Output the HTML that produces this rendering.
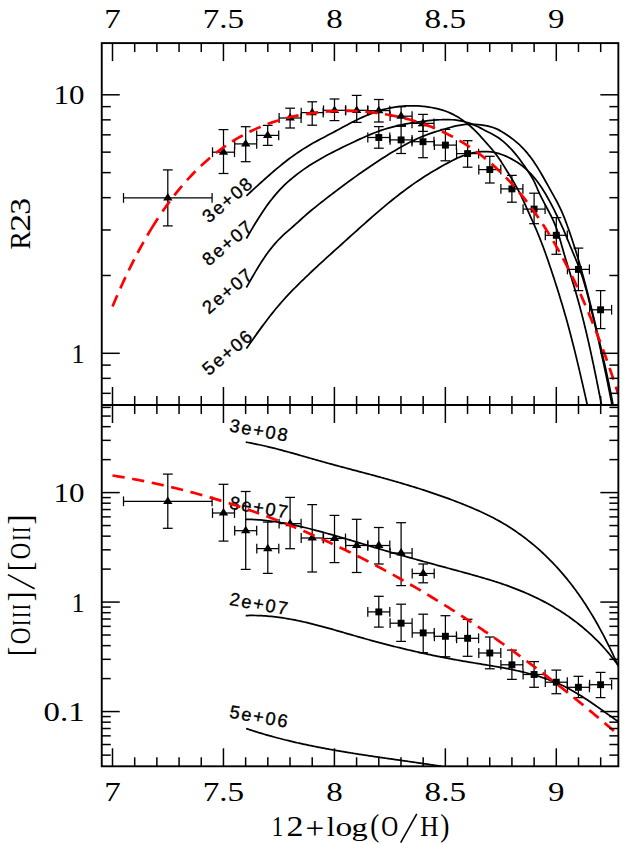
<!DOCTYPE html>
<html><head><meta charset="utf-8"><title>R23 and [OIII]/[OII] vs 12+log(O/H)</title>
<style>html,body{margin:0;padding:0;background:#fff;}svg{display:block;}</style></head>
<body>
<svg width="623" height="844" viewBox="0 0 623 844">
<rect x="0" y="0" width="623" height="844" fill="#fff"/>
<defs><clipPath id="c1"><rect x="101.75" y="43.1" width="516.6" height="361.9"/></clipPath><clipPath id="c2"><rect x="101.75" y="405.0" width="516.6" height="361.29999999999995"/></clipPath></defs>
<text transform="translate(255.0,185.0) rotate(-40)" x="0" y="0" text-anchor="end" font-family="Liberation Sans, sans-serif" font-size="18.3" letter-spacing="1.8"  fill="#000" stroke="#000" stroke-width="0.35">3e+08</text>
<text transform="translate(255.0,228.0) rotate(-40)" x="0" y="0" text-anchor="end" font-family="Liberation Sans, sans-serif" font-size="18.3" letter-spacing="1.8"  fill="#000" stroke="#000" stroke-width="0.35">8e+07</text>
<text transform="translate(255.0,276.0) rotate(-40)" x="0" y="0" text-anchor="end" font-family="Liberation Sans, sans-serif" font-size="18.3" letter-spacing="1.8"  fill="#000" stroke="#000" stroke-width="0.35">2e+07</text>
<text transform="translate(255.0,337.5) rotate(-40)" x="0" y="0" text-anchor="end" font-family="Liberation Sans, sans-serif" font-size="18.3" letter-spacing="1.8"  fill="#000" stroke="#000" stroke-width="0.35">5e+06</text>
<text transform="translate(288.2,441.8) rotate(10)" x="0" y="0" text-anchor="end" font-family="Liberation Sans, sans-serif" font-size="18.3" letter-spacing="1.8"  fill="#000" stroke="#000" stroke-width="0.35">3e+08</text>
<text transform="translate(288.2,518.9) rotate(10)" x="0" y="0" text-anchor="end" font-family="Liberation Sans, sans-serif" font-size="18.3" letter-spacing="1.8"  fill="#000" stroke="#000" stroke-width="0.35">8e+07</text>
<text transform="translate(288.2,615.3) rotate(10)" x="0" y="0" text-anchor="end" font-family="Liberation Sans, sans-serif" font-size="18.3" letter-spacing="1.8"  fill="#000" stroke="#000" stroke-width="0.35">2e+07</text>
<text transform="translate(288.2,728.1) rotate(10)" x="0" y="0" text-anchor="end" font-family="Liberation Sans, sans-serif" font-size="18.3" letter-spacing="1.8"  fill="#000" stroke="#000" stroke-width="0.35">5e+06</text>
<line x1="167.80" y1="169.90" x2="167.80" y2="225.90" stroke="#000" stroke-width="1.25" />
<line x1="162.90" y1="169.90" x2="172.70" y2="169.90" stroke="#000" stroke-width="1.25" />
<line x1="162.90" y1="225.90" x2="172.70" y2="225.90" stroke="#000" stroke-width="1.25" />
<line x1="123.50" y1="197.90" x2="212.10" y2="197.90" stroke="#000" stroke-width="1.25" />
<line x1="123.50" y1="193.00" x2="123.50" y2="202.80" stroke="#000" stroke-width="1.25" />
<line x1="212.10" y1="193.00" x2="212.10" y2="202.80" stroke="#000" stroke-width="1.25" />
<line x1="223.50" y1="129.60" x2="223.50" y2="173.50" stroke="#000" stroke-width="1.25" />
<line x1="218.60" y1="129.60" x2="228.40" y2="129.60" stroke="#000" stroke-width="1.25" />
<line x1="218.60" y1="173.50" x2="228.40" y2="173.50" stroke="#000" stroke-width="1.25" />
<line x1="212.50" y1="152.20" x2="234.50" y2="152.20" stroke="#000" stroke-width="1.25" />
<line x1="212.50" y1="147.30" x2="212.50" y2="157.10" stroke="#000" stroke-width="1.25" />
<line x1="234.50" y1="147.30" x2="234.50" y2="157.10" stroke="#000" stroke-width="1.25" />
<line x1="245.70" y1="126.70" x2="245.70" y2="161.70" stroke="#000" stroke-width="1.25" />
<line x1="240.80" y1="126.70" x2="250.60" y2="126.70" stroke="#000" stroke-width="1.25" />
<line x1="240.80" y1="161.70" x2="250.60" y2="161.70" stroke="#000" stroke-width="1.25" />
<line x1="234.70" y1="143.90" x2="256.70" y2="143.90" stroke="#000" stroke-width="1.25" />
<line x1="234.70" y1="139.00" x2="234.70" y2="148.80" stroke="#000" stroke-width="1.25" />
<line x1="256.70" y1="139.00" x2="256.70" y2="148.80" stroke="#000" stroke-width="1.25" />
<line x1="267.70" y1="125.40" x2="267.70" y2="145.40" stroke="#000" stroke-width="1.25" />
<line x1="262.80" y1="125.40" x2="272.60" y2="125.40" stroke="#000" stroke-width="1.25" />
<line x1="262.80" y1="145.40" x2="272.60" y2="145.40" stroke="#000" stroke-width="1.25" />
<line x1="256.70" y1="135.40" x2="278.70" y2="135.40" stroke="#000" stroke-width="1.25" />
<line x1="256.70" y1="130.50" x2="256.70" y2="140.30" stroke="#000" stroke-width="1.25" />
<line x1="278.70" y1="130.50" x2="278.70" y2="140.30" stroke="#000" stroke-width="1.25" />
<line x1="290.10" y1="108.20" x2="290.10" y2="128.00" stroke="#000" stroke-width="1.25" />
<line x1="285.20" y1="108.20" x2="295.00" y2="108.20" stroke="#000" stroke-width="1.25" />
<line x1="285.20" y1="128.00" x2="295.00" y2="128.00" stroke="#000" stroke-width="1.25" />
<line x1="279.10" y1="118.00" x2="301.10" y2="118.00" stroke="#000" stroke-width="1.25" />
<line x1="279.10" y1="113.10" x2="279.10" y2="122.90" stroke="#000" stroke-width="1.25" />
<line x1="301.10" y1="113.10" x2="301.10" y2="122.90" stroke="#000" stroke-width="1.25" />
<line x1="312.20" y1="101.80" x2="312.20" y2="125.20" stroke="#000" stroke-width="1.25" />
<line x1="307.30" y1="101.80" x2="317.10" y2="101.80" stroke="#000" stroke-width="1.25" />
<line x1="307.30" y1="125.20" x2="317.10" y2="125.20" stroke="#000" stroke-width="1.25" />
<line x1="301.20" y1="112.60" x2="323.20" y2="112.60" stroke="#000" stroke-width="1.25" />
<line x1="301.20" y1="107.70" x2="301.20" y2="117.50" stroke="#000" stroke-width="1.25" />
<line x1="323.20" y1="107.70" x2="323.20" y2="117.50" stroke="#000" stroke-width="1.25" />
<line x1="334.50" y1="99.00" x2="334.50" y2="120.60" stroke="#000" stroke-width="1.25" />
<line x1="329.60" y1="99.00" x2="339.40" y2="99.00" stroke="#000" stroke-width="1.25" />
<line x1="329.60" y1="120.60" x2="339.40" y2="120.60" stroke="#000" stroke-width="1.25" />
<line x1="323.50" y1="110.30" x2="345.50" y2="110.30" stroke="#000" stroke-width="1.25" />
<line x1="323.50" y1="105.40" x2="323.50" y2="115.20" stroke="#000" stroke-width="1.25" />
<line x1="345.50" y1="105.40" x2="345.50" y2="115.20" stroke="#000" stroke-width="1.25" />
<line x1="356.70" y1="95.40" x2="356.70" y2="122.40" stroke="#000" stroke-width="1.25" />
<line x1="351.80" y1="95.40" x2="361.60" y2="95.40" stroke="#000" stroke-width="1.25" />
<line x1="351.80" y1="122.40" x2="361.60" y2="122.40" stroke="#000" stroke-width="1.25" />
<line x1="345.70" y1="110.30" x2="367.70" y2="110.30" stroke="#000" stroke-width="1.25" />
<line x1="345.70" y1="105.40" x2="345.70" y2="115.20" stroke="#000" stroke-width="1.25" />
<line x1="367.70" y1="105.40" x2="367.70" y2="115.20" stroke="#000" stroke-width="1.25" />
<line x1="378.80" y1="99.50" x2="378.80" y2="122.00" stroke="#000" stroke-width="1.25" />
<line x1="373.90" y1="99.50" x2="383.70" y2="99.50" stroke="#000" stroke-width="1.25" />
<line x1="373.90" y1="122.00" x2="383.70" y2="122.00" stroke="#000" stroke-width="1.25" />
<line x1="367.80" y1="110.60" x2="389.80" y2="110.60" stroke="#000" stroke-width="1.25" />
<line x1="367.80" y1="105.70" x2="367.80" y2="115.50" stroke="#000" stroke-width="1.25" />
<line x1="389.80" y1="105.70" x2="389.80" y2="115.50" stroke="#000" stroke-width="1.25" />
<line x1="401.10" y1="106.70" x2="401.10" y2="125.40" stroke="#000" stroke-width="1.25" />
<line x1="396.20" y1="106.70" x2="406.00" y2="106.70" stroke="#000" stroke-width="1.25" />
<line x1="396.20" y1="125.40" x2="406.00" y2="125.40" stroke="#000" stroke-width="1.25" />
<line x1="390.10" y1="116.20" x2="412.10" y2="116.20" stroke="#000" stroke-width="1.25" />
<line x1="390.10" y1="111.30" x2="390.10" y2="121.10" stroke="#000" stroke-width="1.25" />
<line x1="412.10" y1="111.30" x2="412.10" y2="121.10" stroke="#000" stroke-width="1.25" />
<line x1="423.00" y1="114.40" x2="423.00" y2="131.40" stroke="#000" stroke-width="1.25" />
<line x1="418.10" y1="114.40" x2="427.90" y2="114.40" stroke="#000" stroke-width="1.25" />
<line x1="418.10" y1="131.40" x2="427.90" y2="131.40" stroke="#000" stroke-width="1.25" />
<line x1="412.00" y1="123.40" x2="434.00" y2="123.40" stroke="#000" stroke-width="1.25" />
<line x1="412.00" y1="118.50" x2="412.00" y2="128.30" stroke="#000" stroke-width="1.25" />
<line x1="434.00" y1="118.50" x2="434.00" y2="128.30" stroke="#000" stroke-width="1.25" />
<line x1="378.80" y1="126.60" x2="378.80" y2="148.20" stroke="#000" stroke-width="1.25" />
<line x1="373.90" y1="126.60" x2="383.70" y2="126.60" stroke="#000" stroke-width="1.25" />
<line x1="373.90" y1="148.20" x2="383.70" y2="148.20" stroke="#000" stroke-width="1.25" />
<line x1="367.80" y1="137.50" x2="389.80" y2="137.50" stroke="#000" stroke-width="1.25" />
<line x1="367.80" y1="132.60" x2="367.80" y2="142.40" stroke="#000" stroke-width="1.25" />
<line x1="389.80" y1="132.60" x2="389.80" y2="142.40" stroke="#000" stroke-width="1.25" />
<line x1="401.10" y1="126.30" x2="401.10" y2="153.50" stroke="#000" stroke-width="1.25" />
<line x1="396.20" y1="126.30" x2="406.00" y2="126.30" stroke="#000" stroke-width="1.25" />
<line x1="396.20" y1="153.50" x2="406.00" y2="153.50" stroke="#000" stroke-width="1.25" />
<line x1="390.10" y1="139.90" x2="412.10" y2="139.90" stroke="#000" stroke-width="1.25" />
<line x1="390.10" y1="135.00" x2="390.10" y2="144.80" stroke="#000" stroke-width="1.25" />
<line x1="412.10" y1="135.00" x2="412.10" y2="144.80" stroke="#000" stroke-width="1.25" />
<line x1="423.00" y1="125.70" x2="423.00" y2="157.70" stroke="#000" stroke-width="1.25" />
<line x1="418.10" y1="125.70" x2="427.90" y2="125.70" stroke="#000" stroke-width="1.25" />
<line x1="418.10" y1="157.70" x2="427.90" y2="157.70" stroke="#000" stroke-width="1.25" />
<line x1="412.00" y1="141.70" x2="434.00" y2="141.70" stroke="#000" stroke-width="1.25" />
<line x1="412.00" y1="136.80" x2="412.00" y2="146.60" stroke="#000" stroke-width="1.25" />
<line x1="434.00" y1="136.80" x2="434.00" y2="146.60" stroke="#000" stroke-width="1.25" />
<line x1="445.40" y1="129.40" x2="445.40" y2="160.80" stroke="#000" stroke-width="1.25" />
<line x1="440.50" y1="129.40" x2="450.30" y2="129.40" stroke="#000" stroke-width="1.25" />
<line x1="440.50" y1="160.80" x2="450.30" y2="160.80" stroke="#000" stroke-width="1.25" />
<line x1="434.40" y1="145.10" x2="456.40" y2="145.10" stroke="#000" stroke-width="1.25" />
<line x1="434.40" y1="140.20" x2="434.40" y2="150.00" stroke="#000" stroke-width="1.25" />
<line x1="456.40" y1="140.20" x2="456.40" y2="150.00" stroke="#000" stroke-width="1.25" />
<line x1="467.60" y1="140.70" x2="467.60" y2="167.20" stroke="#000" stroke-width="1.25" />
<line x1="462.70" y1="140.70" x2="472.50" y2="140.70" stroke="#000" stroke-width="1.25" />
<line x1="462.70" y1="167.20" x2="472.50" y2="167.20" stroke="#000" stroke-width="1.25" />
<line x1="456.60" y1="153.60" x2="478.60" y2="153.60" stroke="#000" stroke-width="1.25" />
<line x1="456.60" y1="148.70" x2="456.60" y2="158.50" stroke="#000" stroke-width="1.25" />
<line x1="478.60" y1="148.70" x2="478.60" y2="158.50" stroke="#000" stroke-width="1.25" />
<line x1="489.80" y1="156.30" x2="489.80" y2="183.00" stroke="#000" stroke-width="1.25" />
<line x1="484.90" y1="156.30" x2="494.70" y2="156.30" stroke="#000" stroke-width="1.25" />
<line x1="484.90" y1="183.00" x2="494.70" y2="183.00" stroke="#000" stroke-width="1.25" />
<line x1="478.80" y1="169.60" x2="500.80" y2="169.60" stroke="#000" stroke-width="1.25" />
<line x1="478.80" y1="164.70" x2="478.80" y2="174.50" stroke="#000" stroke-width="1.25" />
<line x1="500.80" y1="164.70" x2="500.80" y2="174.50" stroke="#000" stroke-width="1.25" />
<line x1="511.90" y1="175.40" x2="511.90" y2="202.20" stroke="#000" stroke-width="1.25" />
<line x1="507.00" y1="175.40" x2="516.80" y2="175.40" stroke="#000" stroke-width="1.25" />
<line x1="507.00" y1="202.20" x2="516.80" y2="202.20" stroke="#000" stroke-width="1.25" />
<line x1="500.90" y1="188.90" x2="522.90" y2="188.90" stroke="#000" stroke-width="1.25" />
<line x1="500.90" y1="184.00" x2="500.90" y2="193.80" stroke="#000" stroke-width="1.25" />
<line x1="522.90" y1="184.00" x2="522.90" y2="193.80" stroke="#000" stroke-width="1.25" />
<line x1="534.10" y1="193.20" x2="534.10" y2="223.70" stroke="#000" stroke-width="1.25" />
<line x1="529.20" y1="193.20" x2="539.00" y2="193.20" stroke="#000" stroke-width="1.25" />
<line x1="529.20" y1="223.70" x2="539.00" y2="223.70" stroke="#000" stroke-width="1.25" />
<line x1="523.10" y1="209.10" x2="545.10" y2="209.10" stroke="#000" stroke-width="1.25" />
<line x1="523.10" y1="204.20" x2="523.10" y2="214.00" stroke="#000" stroke-width="1.25" />
<line x1="545.10" y1="204.20" x2="545.10" y2="214.00" stroke="#000" stroke-width="1.25" />
<line x1="556.30" y1="217.60" x2="556.30" y2="254.30" stroke="#000" stroke-width="1.25" />
<line x1="551.40" y1="217.60" x2="561.20" y2="217.60" stroke="#000" stroke-width="1.25" />
<line x1="551.40" y1="254.30" x2="561.20" y2="254.30" stroke="#000" stroke-width="1.25" />
<line x1="545.30" y1="235.30" x2="567.30" y2="235.30" stroke="#000" stroke-width="1.25" />
<line x1="545.30" y1="230.40" x2="545.30" y2="240.20" stroke="#000" stroke-width="1.25" />
<line x1="567.30" y1="230.40" x2="567.30" y2="240.20" stroke="#000" stroke-width="1.25" />
<line x1="578.40" y1="248.10" x2="578.40" y2="290.60" stroke="#000" stroke-width="1.25" />
<line x1="573.50" y1="248.10" x2="583.30" y2="248.10" stroke="#000" stroke-width="1.25" />
<line x1="573.50" y1="290.60" x2="583.30" y2="290.60" stroke="#000" stroke-width="1.25" />
<line x1="567.40" y1="269.40" x2="589.40" y2="269.40" stroke="#000" stroke-width="1.25" />
<line x1="567.40" y1="264.50" x2="567.40" y2="274.30" stroke="#000" stroke-width="1.25" />
<line x1="589.40" y1="264.50" x2="589.40" y2="274.30" stroke="#000" stroke-width="1.25" />
<line x1="600.60" y1="290.60" x2="600.60" y2="328.60" stroke="#000" stroke-width="1.25" />
<line x1="595.70" y1="290.60" x2="605.50" y2="290.60" stroke="#000" stroke-width="1.25" />
<line x1="595.70" y1="328.60" x2="605.50" y2="328.60" stroke="#000" stroke-width="1.25" />
<line x1="589.60" y1="309.80" x2="611.60" y2="309.80" stroke="#000" stroke-width="1.25" />
<line x1="589.60" y1="304.90" x2="589.60" y2="314.70" stroke="#000" stroke-width="1.25" />
<line x1="611.60" y1="304.90" x2="611.60" y2="314.70" stroke="#000" stroke-width="1.25" />
<line x1="167.80" y1="474.10" x2="167.80" y2="528.30" stroke="#000" stroke-width="1.25" />
<line x1="162.90" y1="474.10" x2="172.70" y2="474.10" stroke="#000" stroke-width="1.25" />
<line x1="162.90" y1="528.30" x2="172.70" y2="528.30" stroke="#000" stroke-width="1.25" />
<line x1="123.50" y1="501.30" x2="212.10" y2="501.30" stroke="#000" stroke-width="1.25" />
<line x1="123.50" y1="496.40" x2="123.50" y2="506.20" stroke="#000" stroke-width="1.25" />
<line x1="212.10" y1="496.40" x2="212.10" y2="506.20" stroke="#000" stroke-width="1.25" />
<line x1="223.50" y1="484.30" x2="223.50" y2="541.10" stroke="#000" stroke-width="1.25" />
<line x1="218.60" y1="484.30" x2="228.40" y2="484.30" stroke="#000" stroke-width="1.25" />
<line x1="218.60" y1="541.10" x2="228.40" y2="541.10" stroke="#000" stroke-width="1.25" />
<line x1="212.50" y1="513.00" x2="234.50" y2="513.00" stroke="#000" stroke-width="1.25" />
<line x1="212.50" y1="508.10" x2="212.50" y2="517.90" stroke="#000" stroke-width="1.25" />
<line x1="234.50" y1="508.10" x2="234.50" y2="517.90" stroke="#000" stroke-width="1.25" />
<line x1="245.70" y1="491.50" x2="245.70" y2="569.40" stroke="#000" stroke-width="1.25" />
<line x1="240.80" y1="491.50" x2="250.60" y2="491.50" stroke="#000" stroke-width="1.25" />
<line x1="240.80" y1="569.40" x2="250.60" y2="569.40" stroke="#000" stroke-width="1.25" />
<line x1="234.70" y1="530.70" x2="256.70" y2="530.70" stroke="#000" stroke-width="1.25" />
<line x1="234.70" y1="525.80" x2="234.70" y2="535.60" stroke="#000" stroke-width="1.25" />
<line x1="256.70" y1="525.80" x2="256.70" y2="535.60" stroke="#000" stroke-width="1.25" />
<line x1="267.80" y1="522.10" x2="267.80" y2="573.40" stroke="#000" stroke-width="1.25" />
<line x1="262.90" y1="522.10" x2="272.70" y2="522.10" stroke="#000" stroke-width="1.25" />
<line x1="262.90" y1="573.40" x2="272.70" y2="573.40" stroke="#000" stroke-width="1.25" />
<line x1="256.80" y1="548.60" x2="278.80" y2="548.60" stroke="#000" stroke-width="1.25" />
<line x1="256.80" y1="543.70" x2="256.80" y2="553.50" stroke="#000" stroke-width="1.25" />
<line x1="278.80" y1="543.70" x2="278.80" y2="553.50" stroke="#000" stroke-width="1.25" />
<line x1="290.10" y1="497.40" x2="290.10" y2="548.70" stroke="#000" stroke-width="1.25" />
<line x1="285.20" y1="497.40" x2="295.00" y2="497.40" stroke="#000" stroke-width="1.25" />
<line x1="285.20" y1="548.70" x2="295.00" y2="548.70" stroke="#000" stroke-width="1.25" />
<line x1="279.10" y1="523.60" x2="301.10" y2="523.60" stroke="#000" stroke-width="1.25" />
<line x1="279.10" y1="518.70" x2="279.10" y2="528.50" stroke="#000" stroke-width="1.25" />
<line x1="301.10" y1="518.70" x2="301.10" y2="528.50" stroke="#000" stroke-width="1.25" />
<line x1="312.20" y1="504.60" x2="312.20" y2="572.00" stroke="#000" stroke-width="1.25" />
<line x1="307.30" y1="504.60" x2="317.10" y2="504.60" stroke="#000" stroke-width="1.25" />
<line x1="307.30" y1="572.00" x2="317.10" y2="572.00" stroke="#000" stroke-width="1.25" />
<line x1="301.20" y1="538.00" x2="323.20" y2="538.00" stroke="#000" stroke-width="1.25" />
<line x1="301.20" y1="533.10" x2="301.20" y2="542.90" stroke="#000" stroke-width="1.25" />
<line x1="323.20" y1="533.10" x2="323.20" y2="542.90" stroke="#000" stroke-width="1.25" />
<line x1="334.50" y1="515.40" x2="334.50" y2="562.60" stroke="#000" stroke-width="1.25" />
<line x1="329.60" y1="515.40" x2="339.40" y2="515.40" stroke="#000" stroke-width="1.25" />
<line x1="329.60" y1="562.60" x2="339.40" y2="562.60" stroke="#000" stroke-width="1.25" />
<line x1="323.50" y1="538.50" x2="345.50" y2="538.50" stroke="#000" stroke-width="1.25" />
<line x1="323.50" y1="533.60" x2="323.50" y2="543.40" stroke="#000" stroke-width="1.25" />
<line x1="345.50" y1="533.60" x2="345.50" y2="543.40" stroke="#000" stroke-width="1.25" />
<line x1="356.70" y1="519.30" x2="356.70" y2="572.50" stroke="#000" stroke-width="1.25" />
<line x1="351.80" y1="519.30" x2="361.60" y2="519.30" stroke="#000" stroke-width="1.25" />
<line x1="351.80" y1="572.50" x2="361.60" y2="572.50" stroke="#000" stroke-width="1.25" />
<line x1="345.70" y1="545.50" x2="367.70" y2="545.50" stroke="#000" stroke-width="1.25" />
<line x1="345.70" y1="540.60" x2="345.70" y2="550.40" stroke="#000" stroke-width="1.25" />
<line x1="367.70" y1="540.60" x2="367.70" y2="550.40" stroke="#000" stroke-width="1.25" />
<line x1="378.80" y1="527.50" x2="378.80" y2="564.00" stroke="#000" stroke-width="1.25" />
<line x1="373.90" y1="527.50" x2="383.70" y2="527.50" stroke="#000" stroke-width="1.25" />
<line x1="373.90" y1="564.00" x2="383.70" y2="564.00" stroke="#000" stroke-width="1.25" />
<line x1="367.80" y1="545.50" x2="389.80" y2="545.50" stroke="#000" stroke-width="1.25" />
<line x1="367.80" y1="540.60" x2="367.80" y2="550.40" stroke="#000" stroke-width="1.25" />
<line x1="389.80" y1="540.60" x2="389.80" y2="550.40" stroke="#000" stroke-width="1.25" />
<line x1="401.10" y1="522.70" x2="401.10" y2="585.60" stroke="#000" stroke-width="1.25" />
<line x1="396.20" y1="522.70" x2="406.00" y2="522.70" stroke="#000" stroke-width="1.25" />
<line x1="396.20" y1="585.60" x2="406.00" y2="585.60" stroke="#000" stroke-width="1.25" />
<line x1="390.10" y1="553.00" x2="412.10" y2="553.00" stroke="#000" stroke-width="1.25" />
<line x1="390.10" y1="548.10" x2="390.10" y2="557.90" stroke="#000" stroke-width="1.25" />
<line x1="412.10" y1="548.10" x2="412.10" y2="557.90" stroke="#000" stroke-width="1.25" />
<line x1="423.20" y1="564.00" x2="423.20" y2="582.80" stroke="#000" stroke-width="1.25" />
<line x1="418.30" y1="564.00" x2="428.10" y2="564.00" stroke="#000" stroke-width="1.25" />
<line x1="418.30" y1="582.80" x2="428.10" y2="582.80" stroke="#000" stroke-width="1.25" />
<line x1="412.20" y1="573.50" x2="434.20" y2="573.50" stroke="#000" stroke-width="1.25" />
<line x1="412.20" y1="568.60" x2="412.20" y2="578.40" stroke="#000" stroke-width="1.25" />
<line x1="434.20" y1="568.60" x2="434.20" y2="578.40" stroke="#000" stroke-width="1.25" />
<line x1="378.80" y1="596.30" x2="378.80" y2="627.10" stroke="#000" stroke-width="1.25" />
<line x1="373.90" y1="596.30" x2="383.70" y2="596.30" stroke="#000" stroke-width="1.25" />
<line x1="373.90" y1="627.10" x2="383.70" y2="627.10" stroke="#000" stroke-width="1.25" />
<line x1="367.80" y1="611.90" x2="389.80" y2="611.90" stroke="#000" stroke-width="1.25" />
<line x1="367.80" y1="607.00" x2="367.80" y2="616.80" stroke="#000" stroke-width="1.25" />
<line x1="389.80" y1="607.00" x2="389.80" y2="616.80" stroke="#000" stroke-width="1.25" />
<line x1="401.10" y1="604.20" x2="401.10" y2="641.40" stroke="#000" stroke-width="1.25" />
<line x1="396.20" y1="604.20" x2="406.00" y2="604.20" stroke="#000" stroke-width="1.25" />
<line x1="396.20" y1="641.40" x2="406.00" y2="641.40" stroke="#000" stroke-width="1.25" />
<line x1="390.10" y1="623.20" x2="412.10" y2="623.20" stroke="#000" stroke-width="1.25" />
<line x1="390.10" y1="618.30" x2="390.10" y2="628.10" stroke="#000" stroke-width="1.25" />
<line x1="412.10" y1="618.30" x2="412.10" y2="628.10" stroke="#000" stroke-width="1.25" />
<line x1="423.20" y1="614.20" x2="423.20" y2="652.70" stroke="#000" stroke-width="1.25" />
<line x1="418.30" y1="614.20" x2="428.10" y2="614.20" stroke="#000" stroke-width="1.25" />
<line x1="418.30" y1="652.70" x2="428.10" y2="652.70" stroke="#000" stroke-width="1.25" />
<line x1="412.20" y1="632.90" x2="434.20" y2="632.90" stroke="#000" stroke-width="1.25" />
<line x1="412.20" y1="628.00" x2="412.20" y2="637.80" stroke="#000" stroke-width="1.25" />
<line x1="434.20" y1="628.00" x2="434.20" y2="637.80" stroke="#000" stroke-width="1.25" />
<line x1="445.40" y1="615.70" x2="445.40" y2="656.80" stroke="#000" stroke-width="1.25" />
<line x1="440.50" y1="615.70" x2="450.30" y2="615.70" stroke="#000" stroke-width="1.25" />
<line x1="440.50" y1="656.80" x2="450.30" y2="656.80" stroke="#000" stroke-width="1.25" />
<line x1="434.40" y1="636.30" x2="456.40" y2="636.30" stroke="#000" stroke-width="1.25" />
<line x1="434.40" y1="631.40" x2="434.40" y2="641.20" stroke="#000" stroke-width="1.25" />
<line x1="456.40" y1="631.40" x2="456.40" y2="641.20" stroke="#000" stroke-width="1.25" />
<line x1="467.60" y1="619.30" x2="467.60" y2="656.30" stroke="#000" stroke-width="1.25" />
<line x1="462.70" y1="619.30" x2="472.50" y2="619.30" stroke="#000" stroke-width="1.25" />
<line x1="462.70" y1="656.30" x2="472.50" y2="656.30" stroke="#000" stroke-width="1.25" />
<line x1="456.60" y1="638.30" x2="478.60" y2="638.30" stroke="#000" stroke-width="1.25" />
<line x1="456.60" y1="633.40" x2="456.60" y2="643.20" stroke="#000" stroke-width="1.25" />
<line x1="478.60" y1="633.40" x2="478.60" y2="643.20" stroke="#000" stroke-width="1.25" />
<line x1="489.80" y1="637.00" x2="489.80" y2="668.80" stroke="#000" stroke-width="1.25" />
<line x1="484.90" y1="637.00" x2="494.70" y2="637.00" stroke="#000" stroke-width="1.25" />
<line x1="484.90" y1="668.80" x2="494.70" y2="668.80" stroke="#000" stroke-width="1.25" />
<line x1="478.80" y1="653.00" x2="500.80" y2="653.00" stroke="#000" stroke-width="1.25" />
<line x1="478.80" y1="648.10" x2="478.80" y2="657.90" stroke="#000" stroke-width="1.25" />
<line x1="500.80" y1="648.10" x2="500.80" y2="657.90" stroke="#000" stroke-width="1.25" />
<line x1="511.90" y1="650.10" x2="511.90" y2="679.40" stroke="#000" stroke-width="1.25" />
<line x1="507.00" y1="650.10" x2="516.80" y2="650.10" stroke="#000" stroke-width="1.25" />
<line x1="507.00" y1="679.40" x2="516.80" y2="679.40" stroke="#000" stroke-width="1.25" />
<line x1="500.90" y1="664.80" x2="522.90" y2="664.80" stroke="#000" stroke-width="1.25" />
<line x1="500.90" y1="659.90" x2="500.90" y2="669.70" stroke="#000" stroke-width="1.25" />
<line x1="522.90" y1="659.90" x2="522.90" y2="669.70" stroke="#000" stroke-width="1.25" />
<line x1="534.10" y1="661.60" x2="534.10" y2="687.30" stroke="#000" stroke-width="1.25" />
<line x1="529.20" y1="661.60" x2="539.00" y2="661.60" stroke="#000" stroke-width="1.25" />
<line x1="529.20" y1="687.30" x2="539.00" y2="687.30" stroke="#000" stroke-width="1.25" />
<line x1="523.10" y1="674.50" x2="545.10" y2="674.50" stroke="#000" stroke-width="1.25" />
<line x1="523.10" y1="669.60" x2="523.10" y2="679.40" stroke="#000" stroke-width="1.25" />
<line x1="545.10" y1="669.60" x2="545.10" y2="679.40" stroke="#000" stroke-width="1.25" />
<line x1="556.30" y1="670.10" x2="556.30" y2="693.70" stroke="#000" stroke-width="1.25" />
<line x1="551.40" y1="670.10" x2="561.20" y2="670.10" stroke="#000" stroke-width="1.25" />
<line x1="551.40" y1="693.70" x2="561.20" y2="693.70" stroke="#000" stroke-width="1.25" />
<line x1="545.30" y1="682.20" x2="567.30" y2="682.20" stroke="#000" stroke-width="1.25" />
<line x1="545.30" y1="677.30" x2="545.30" y2="687.10" stroke="#000" stroke-width="1.25" />
<line x1="567.30" y1="677.30" x2="567.30" y2="687.10" stroke="#000" stroke-width="1.25" />
<line x1="578.40" y1="676.30" x2="578.40" y2="697.60" stroke="#000" stroke-width="1.25" />
<line x1="573.50" y1="676.30" x2="583.30" y2="676.30" stroke="#000" stroke-width="1.25" />
<line x1="573.50" y1="697.60" x2="583.30" y2="697.60" stroke="#000" stroke-width="1.25" />
<line x1="567.40" y1="687.30" x2="589.40" y2="687.30" stroke="#000" stroke-width="1.25" />
<line x1="567.40" y1="682.40" x2="567.40" y2="692.20" stroke="#000" stroke-width="1.25" />
<line x1="589.40" y1="682.40" x2="589.40" y2="692.20" stroke="#000" stroke-width="1.25" />
<line x1="600.60" y1="672.40" x2="600.60" y2="697.60" stroke="#000" stroke-width="1.25" />
<line x1="595.70" y1="672.40" x2="605.50" y2="672.40" stroke="#000" stroke-width="1.25" />
<line x1="595.70" y1="697.60" x2="605.50" y2="697.60" stroke="#000" stroke-width="1.25" />
<line x1="589.60" y1="684.70" x2="611.60" y2="684.70" stroke="#000" stroke-width="1.25" />
<line x1="589.60" y1="679.80" x2="589.60" y2="689.60" stroke="#000" stroke-width="1.25" />
<line x1="611.60" y1="679.80" x2="611.60" y2="689.60" stroke="#000" stroke-width="1.25" />
<polygon points="167.80,193.00 163.10,200.50 172.50,200.50" fill="#000"/>
<polygon points="223.50,147.30 218.80,154.80 228.20,154.80" fill="#000"/>
<polygon points="245.70,139.00 241.00,146.50 250.40,146.50" fill="#000"/>
<polygon points="267.70,130.50 263.00,138.00 272.40,138.00" fill="#000"/>
<polygon points="290.10,113.10 285.40,120.60 294.80,120.60" fill="#000"/>
<polygon points="312.20,107.70 307.50,115.20 316.90,115.20" fill="#000"/>
<polygon points="334.50,105.40 329.80,112.90 339.20,112.90" fill="#000"/>
<polygon points="356.70,105.40 352.00,112.90 361.40,112.90" fill="#000"/>
<polygon points="378.80,105.70 374.10,113.20 383.50,113.20" fill="#000"/>
<polygon points="401.10,111.30 396.40,118.80 405.80,118.80" fill="#000"/>
<polygon points="423.00,118.50 418.30,126.00 427.70,126.00" fill="#000"/>
<polygon points="167.80,496.40 163.10,503.90 172.50,503.90" fill="#000"/>
<polygon points="223.50,508.10 218.80,515.60 228.20,515.60" fill="#000"/>
<polygon points="245.70,525.80 241.00,533.30 250.40,533.30" fill="#000"/>
<polygon points="267.80,543.70 263.10,551.20 272.50,551.20" fill="#000"/>
<polygon points="290.10,518.70 285.40,526.20 294.80,526.20" fill="#000"/>
<polygon points="312.20,533.10 307.50,540.60 316.90,540.60" fill="#000"/>
<polygon points="334.50,533.60 329.80,541.10 339.20,541.10" fill="#000"/>
<polygon points="356.70,540.60 352.00,548.10 361.40,548.10" fill="#000"/>
<polygon points="378.80,540.60 374.10,548.10 383.50,548.10" fill="#000"/>
<polygon points="401.10,548.10 396.40,555.60 405.80,555.60" fill="#000"/>
<polygon points="423.20,568.60 418.50,576.10 427.90,576.10" fill="#000"/>
<rect x="375.35" y="134.05" width="6.9" height="6.9" fill="#000"/>
<rect x="397.65" y="136.45" width="6.9" height="6.9" fill="#000"/>
<rect x="419.55" y="138.25" width="6.9" height="6.9" fill="#000"/>
<rect x="441.95" y="141.65" width="6.9" height="6.9" fill="#000"/>
<rect x="464.15" y="150.15" width="6.9" height="6.9" fill="#000"/>
<rect x="486.35" y="166.15" width="6.9" height="6.9" fill="#000"/>
<rect x="508.45" y="185.45" width="6.9" height="6.9" fill="#000"/>
<rect x="530.65" y="205.65" width="6.9" height="6.9" fill="#000"/>
<rect x="552.85" y="231.85" width="6.9" height="6.9" fill="#000"/>
<rect x="574.95" y="265.95" width="6.9" height="6.9" fill="#000"/>
<rect x="597.15" y="306.35" width="6.9" height="6.9" fill="#000"/>
<rect x="375.35" y="608.45" width="6.9" height="6.9" fill="#000"/>
<rect x="397.65" y="619.75" width="6.9" height="6.9" fill="#000"/>
<rect x="419.75" y="629.45" width="6.9" height="6.9" fill="#000"/>
<rect x="441.95" y="632.85" width="6.9" height="6.9" fill="#000"/>
<rect x="464.15" y="634.85" width="6.9" height="6.9" fill="#000"/>
<rect x="486.35" y="649.55" width="6.9" height="6.9" fill="#000"/>
<rect x="508.45" y="661.35" width="6.9" height="6.9" fill="#000"/>
<rect x="530.65" y="671.05" width="6.9" height="6.9" fill="#000"/>
<rect x="552.85" y="678.75" width="6.9" height="6.9" fill="#000"/>
<rect x="574.95" y="683.85" width="6.9" height="6.9" fill="#000"/>
<rect x="597.15" y="681.25" width="6.9" height="6.9" fill="#000"/>
<g clip-path="url(#c1)">
<path d="M246.42,195.78 L248.49,193.90 L250.56,192.01 L252.64,190.12 L254.72,188.22 L256.80,186.32 L258.89,184.42 L260.99,182.52 L263.09,180.63 L265.20,178.74 L267.31,176.86 L269.44,174.99 L271.57,173.12 L273.72,171.27 L275.88,169.44 L278.05,167.62 L280.23,165.81 L282.43,164.03 L284.64,162.27 L286.87,160.53 L289.12,158.82 L291.38,157.13 L293.66,155.47 L295.96,153.84 L298.29,152.24 L300.63,150.67 L302.99,149.14 L305.38,147.65 L307.79,146.19 L310.22,144.76 L312.66,143.36 L315.13,141.99 L317.60,140.63 L320.09,139.29 L322.58,137.97 L325.08,136.65 L327.58,135.33 L330.08,134.02 L332.59,132.70 L335.09,131.37 L337.58,130.04 L340.08,128.69 L342.57,127.35 L345.06,126.01 L347.55,124.67 L350.06,123.35 L352.56,122.05 L355.08,120.77 L357.61,119.52 L360.15,118.30 L362.71,117.11 L365.29,115.97 L367.89,114.87 L370.50,113.82 L373.14,112.83 L375.80,111.89 L378.48,111.01 L381.18,110.19 L383.89,109.43 L386.62,108.74 L389.37,108.11 L392.13,107.55 L394.91,107.07 L397.70,106.66 L400.51,106.32 L403.33,106.07 L406.16,105.89 L408.99,105.79 L411.83,105.76 L414.66,105.80 L417.50,105.91 L420.33,106.10 L423.16,106.35 L425.98,106.67 L428.78,107.06 L431.57,107.51 L434.34,108.03 L437.09,108.63 L439.82,109.31 L442.52,110.09 L445.19,110.98 L447.82,111.98 L450.42,113.11 L452.98,114.35 L455.48,115.68 L457.94,117.11 L460.35,118.63 L462.70,120.22 L464.98,121.88 L467.21,123.61 L469.39,125.41 L471.51,127.26 L473.57,129.17 L475.59,131.14 L477.57,133.15 L479.50,135.21 L481.39,137.30 L483.26,139.42 L485.13,141.54 L486.99,143.67 L488.87,145.78 L490.73,147.90 L492.56,150.04 L494.35,152.21 L496.07,154.44 L497.73,156.71 L499.34,159.02 L500.91,161.36 L502.44,163.73 L503.95,166.12 L505.44,168.52 L506.93,170.92 L508.42,173.32 L509.90,175.73 L511.37,178.14 L512.82,180.57 L514.25,183.00 L515.65,185.45 L517.02,187.92 L518.35,190.41 L519.64,192.92 L520.89,195.45 L522.11,198.00 L523.31,200.56 L524.48,203.13 L525.65,205.70 L526.80,208.28 L527.95,210.86 L529.11,213.44 L530.26,216.02 L531.42,218.59 L532.57,221.17 L533.71,223.75 L534.84,226.33 L535.96,228.92 L537.06,231.52 L538.14,234.12 L539.20,236.74 L540.24,239.36 L541.26,241.99 L542.27,244.63 L543.27,247.27 L544.24,249.92 L545.21,252.57 L546.16,255.23 L547.10,257.90 L548.03,260.56 L548.95,263.24 L549.85,265.91 L550.75,268.59 L551.65,271.27 L552.53,273.95 L553.42,276.64 L554.29,279.33 L555.16,282.01 L556.02,284.70 L556.88,287.39 L557.73,290.09 L558.58,292.78 L559.41,295.48 L560.24,298.18 L561.06,300.88 L561.88,303.58 L562.68,306.28 L563.48,308.99 L564.27,311.70 L565.05,314.42 L565.83,317.13 L566.59,319.85 L567.34,322.57 L568.09,325.29 L568.83,328.02 L569.56,330.75 L570.28,333.48 L570.99,336.21 L571.70,338.94 L572.40,341.68 L573.10,344.42 L573.79,347.16 L574.47,349.90 L575.14,352.64 L575.82,355.38 L576.48,358.13 L577.14,360.87 L577.80,363.62 L578.45,366.37 L579.10,369.12 L579.75,371.87 L580.39,374.62 L581.03,377.37 L581.66,380.12 L582.29,382.88 L582.93,385.63 L583.55,388.38 L584.18,391.14 L584.81,393.89 L585.43,396.64 L586.06,399.39 L586.68,402.15 L587.30,404.90" fill="none" stroke="#000" stroke-width="1.75" stroke-linejoin="round" />
<path d="M246.36,238.55 L247.83,236.00 L249.32,233.45 L250.81,230.89 L252.32,228.34 L253.84,225.79 L255.37,223.24 L256.93,220.70 L258.51,218.17 L260.11,215.66 L261.74,213.16 L263.39,210.68 L265.08,208.22 L266.79,205.79 L268.55,203.39 L270.33,201.01 L272.16,198.67 L274.03,196.36 L275.94,194.10 L277.90,191.87 L279.90,189.69 L281.95,187.56 L284.05,185.47 L286.20,183.43 L288.39,181.43 L290.63,179.48 L292.90,177.57 L295.21,175.70 L297.56,173.87 L299.93,172.09 L302.34,170.34 L304.78,168.63 L307.25,166.96 L309.74,165.33 L312.25,163.73 L314.79,162.17 L317.34,160.64 L319.91,159.15 L322.49,157.68 L325.09,156.25 L327.70,154.85 L330.32,153.46 L332.95,152.10 L335.59,150.76 L338.24,149.43 L340.90,148.11 L343.56,146.81 L346.24,145.51 L348.92,144.23 L351.61,142.94 L354.30,141.67 L356.99,140.41 L359.70,139.16 L362.41,137.93 L365.13,136.72 L367.87,135.54 L370.61,134.39 L373.36,133.28 L376.13,132.21 L378.92,131.18 L381.71,130.19 L384.53,129.26 L387.36,128.39 L390.20,127.56 L393.06,126.79 L395.93,126.06 L398.82,125.38 L401.72,124.74 L404.63,124.15 L407.55,123.60 L410.47,123.08 L413.41,122.61 L416.36,122.16 L419.31,121.76 L422.26,121.38 L425.23,121.04 L428.19,120.72 L431.16,120.43 L434.13,120.16 L437.11,119.93 L440.08,119.75 L443.05,119.63 L446.01,119.58 L448.97,119.62 L451.92,119.75 L454.86,119.99 L457.79,120.35 L460.70,120.84 L463.60,121.47 L466.48,122.25 L469.33,123.16 L472.14,124.19 L474.90,125.33 L477.60,126.57 L480.24,127.90 L482.85,129.27 L485.45,130.65 L488.09,132.00 L490.75,133.32 L493.38,134.70 L495.96,136.19 L498.44,137.81 L500.84,139.57 L503.16,141.43 L505.40,143.38 L507.57,145.41 L509.67,147.52 L511.70,149.68 L513.68,151.90 L515.59,154.17 L517.46,156.48 L519.28,158.84 L521.06,161.23 L522.80,163.65 L524.51,166.09 L526.18,168.55 L527.84,171.02 L529.48,173.50 L531.08,176.00 L532.60,178.53 L534.00,181.12 L535.25,183.79 L536.42,186.51 L537.56,189.24 L538.76,191.95 L540.02,194.63 L541.33,197.30 L542.68,199.95 L544.06,202.58 L545.46,205.21 L546.86,207.84 L548.25,210.47 L549.63,213.11 L550.97,215.76 L552.27,218.43 L553.52,221.13 L554.69,223.84 L555.79,226.59 L556.82,229.38 L557.77,232.19 L558.67,235.02 L559.54,237.87 L560.37,240.73 L561.18,243.59 L561.99,246.46 L562.81,249.33 L563.64,252.19 L564.48,255.04 L565.33,257.90 L566.19,260.74 L567.05,263.59 L567.92,266.43 L568.80,269.27 L569.67,272.11 L570.55,274.95 L571.42,277.78 L572.29,280.62 L573.16,283.46 L574.01,286.30 L574.86,289.15 L575.70,292.00 L576.52,294.85 L577.33,297.70 L578.14,300.56 L578.92,303.42 L579.70,306.29 L580.47,309.16 L581.23,312.03 L581.97,314.90 L582.71,317.78 L583.43,320.66 L584.15,323.55 L584.85,326.43 L585.55,329.32 L586.24,332.21 L586.92,335.10 L587.59,338.00 L588.26,340.90 L588.91,343.79 L589.56,346.70 L590.21,349.60 L590.84,352.50 L591.47,355.41 L592.10,358.31 L592.72,361.22 L593.33,364.13 L593.94,367.04 L594.54,369.95 L595.14,372.86 L595.74,375.77 L596.33,378.68 L596.91,381.60 L597.50,384.51 L598.08,387.42 L598.66,390.33 L599.23,393.25 L599.81,396.16 L600.38,399.07 L600.95,401.98 L601.52,404.89" fill="none" stroke="#000" stroke-width="1.75" stroke-linejoin="round" />
<path d="M246.36,287.55 L247.88,284.87 L249.42,282.18 L250.95,279.49 L252.50,276.79 L254.07,274.09 L255.65,271.40 L257.25,268.71 L258.88,266.04 L260.54,263.39 L262.23,260.76 L263.96,258.16 L265.72,255.59 L267.53,253.05 L269.39,250.55 L271.30,248.09 L273.26,245.68 L275.27,243.32 L277.35,241.02 L279.49,238.77 L281.70,236.59 L283.97,234.47 L286.29,232.39 L288.63,230.33 L290.99,228.29 L293.35,226.24 L295.69,224.18 L298.00,222.10 L300.30,219.99 L302.60,217.89 L304.91,215.82 L307.26,213.77 L309.63,211.76 L312.03,209.77 L314.45,207.81 L316.88,205.86 L319.32,203.93 L321.76,202.00 L324.21,200.08 L326.67,198.17 L329.13,196.26 L331.60,194.37 L334.07,192.47 L336.55,190.59 L339.04,188.72 L341.53,186.85 L344.02,184.99 L346.53,183.14 L349.04,181.30 L351.56,179.47 L354.08,177.65 L356.61,175.84 L359.15,174.04 L361.70,172.25 L364.26,170.47 L366.82,168.70 L369.39,166.95 L371.98,165.20 L374.57,163.47 L377.16,161.75 L379.77,160.04 L382.39,158.35 L385.02,156.67 L387.65,155.00 L390.30,153.36 L392.96,151.73 L395.64,150.13 L398.33,148.56 L401.03,147.01 L403.76,145.50 L406.50,144.03 L409.25,142.59 L412.03,141.20 L414.83,139.85 L417.65,138.55 L420.50,137.30 L423.37,136.10 L426.26,134.96 L429.18,133.88 L432.13,132.87 L435.11,131.91 L438.10,131.00 L441.10,130.12 L444.10,129.26 L447.10,128.39 L450.09,127.53 L453.08,126.71 L456.09,125.95 L459.11,125.31 L462.16,124.79 L465.24,124.45 L468.36,124.26 L471.48,124.22 L474.62,124.33 L477.76,124.57 L480.88,124.92 L483.99,125.39 L487.06,125.96 L490.08,126.65 L493.04,127.50 L495.91,128.57 L498.69,129.88 L501.39,131.39 L504.04,133.03 L506.65,134.77 L509.25,136.56 L511.82,138.42 L514.33,140.33 L516.76,142.32 L519.11,144.39 L521.36,146.55 L523.52,148.77 L525.59,151.07 L527.59,153.43 L529.52,155.85 L531.38,158.32 L533.18,160.85 L534.92,163.41 L536.62,166.02 L538.27,168.66 L539.89,171.33 L541.47,174.03 L543.03,176.74 L544.57,179.46 L546.10,182.20 L547.62,184.93 L549.14,187.67 L550.66,190.40 L552.19,193.11 L553.72,195.83 L555.22,198.55 L556.70,201.28 L558.15,204.02 L559.53,206.80 L560.86,209.61 L562.12,212.44 L563.33,215.31 L564.49,218.20 L565.61,221.11 L566.69,224.03 L567.76,226.96 L568.80,229.90 L569.82,232.85 L570.83,235.79 L571.83,238.75 L572.80,241.70 L573.76,244.67 L574.71,247.63 L575.64,250.60 L576.56,253.58 L577.47,256.56 L578.36,259.54 L579.24,262.53 L580.11,265.52 L580.96,268.51 L581.81,271.51 L582.64,274.51 L583.47,277.51 L584.28,280.51 L585.09,283.52 L585.89,286.53 L586.68,289.54 L587.46,292.56 L588.23,295.57 L589.00,298.59 L589.76,301.61 L590.52,304.63 L591.27,307.66 L592.01,310.68 L592.75,313.71 L593.49,316.73 L594.23,319.76 L594.96,322.79 L595.69,325.82 L596.41,328.84 L597.14,331.87 L597.86,334.90 L598.58,337.93 L599.30,340.96 L600.01,343.99 L600.73,347.02 L601.43,350.06 L602.14,353.09 L602.83,356.12 L603.53,359.16 L604.21,362.20 L604.90,365.24 L605.57,368.28 L606.24,371.32 L606.90,374.36 L607.55,377.40 L608.19,380.45 L608.83,383.50 L609.46,386.55 L610.07,389.60 L610.68,392.66 L611.28,395.71 L611.86,398.77 L612.44,401.84 L613.00,404.90" fill="none" stroke="#000" stroke-width="1.75" stroke-linejoin="round" />
<path d="M246.40,348.50 L248.18,345.98 L249.96,343.45 L251.74,340.93 L253.53,338.40 L255.32,335.89 L257.12,333.37 L258.92,330.87 L260.74,328.37 L262.57,325.88 L264.41,323.40 L266.27,320.93 L268.15,318.48 L270.04,316.04 L271.95,313.61 L273.88,311.21 L275.84,308.82 L277.82,306.45 L279.82,304.10 L281.85,301.78 L283.91,299.47 L285.99,297.19 L288.09,294.93 L290.22,292.68 L292.36,290.45 L294.52,288.24 L296.70,286.05 L298.89,283.86 L301.10,281.70 L303.31,279.54 L305.54,277.39 L307.77,275.26 L310.01,273.13 L312.25,271.01 L314.51,268.90 L316.77,266.80 L319.03,264.71 L321.30,262.62 L323.58,260.53 L325.86,258.45 L328.14,256.38 L330.43,254.31 L332.72,252.24 L335.01,250.17 L337.31,248.11 L339.60,246.04 L341.90,243.98 L344.19,241.91 L346.49,239.84 L348.78,237.77 L351.08,235.70 L353.38,233.63 L355.67,231.56 L357.97,229.50 L360.28,227.43 L362.58,225.37 L364.89,223.31 L367.20,221.26 L369.52,219.22 L371.85,217.18 L374.18,215.14 L376.52,213.12 L378.86,211.11 L381.21,209.11 L383.58,207.11 L385.95,205.14 L388.33,203.17 L390.72,201.22 L393.12,199.28 L395.54,197.36 L397.96,195.45 L400.40,193.56 L402.86,191.69 L405.33,189.84 L407.81,188.01 L410.31,186.20 L412.82,184.41 L415.35,182.65 L417.90,180.91 L420.47,179.19 L423.05,177.49 L425.66,175.83 L428.28,174.19 L430.92,172.57 L433.58,170.99 L436.25,169.42 L438.93,167.88 L441.63,166.35 L444.33,164.85 L447.03,163.37 L449.74,161.91 L452.47,160.48 L455.23,159.12 L458.02,157.82 L460.86,156.61 L463.76,155.50 L466.71,154.51 L469.71,153.65 L472.75,152.92 L475.81,152.33 L478.88,151.90 L481.96,151.65 L485.04,151.56 L488.10,151.67 L491.14,151.97 L494.15,152.45 L497.14,153.12 L500.08,153.96 L502.98,154.98 L505.84,156.15 L508.67,157.45 L511.44,158.87 L514.17,160.40 L516.82,162.05 L519.41,163.80 L521.91,165.66 L524.31,167.60 L526.62,169.64 L528.84,171.76 L530.97,173.96 L533.02,176.24 L535.00,178.58 L536.89,180.99 L538.72,183.46 L540.49,185.98 L542.20,188.55 L543.85,191.16 L545.45,193.81 L547.01,196.49 L548.52,199.20 L550.00,201.93 L551.45,204.68 L552.87,207.45 L554.27,210.22 L555.65,212.99 L557.01,215.76 L558.36,218.53 L559.69,221.31 L560.99,224.10 L562.26,226.90 L563.50,229.71 L564.71,232.54 L565.90,235.39 L567.07,238.24 L568.24,241.10 L569.40,243.97 L570.57,246.83 L571.76,249.69 L572.96,252.55 L574.16,255.40 L575.36,258.25 L576.55,261.11 L577.70,263.98 L578.82,266.86 L579.89,269.76 L580.92,272.67 L581.90,275.59 L582.85,278.53 L583.77,281.47 L584.65,284.43 L585.50,287.40 L586.32,290.37 L587.13,293.35 L587.91,296.34 L588.68,299.33 L589.44,302.33 L590.18,305.33 L590.92,308.33 L591.65,311.33 L592.38,314.33 L593.11,317.34 L593.83,320.34 L594.54,323.35 L595.25,326.36 L595.95,329.36 L596.65,332.37 L597.35,335.38 L598.04,338.40 L598.72,341.41 L599.40,344.42 L600.08,347.44 L600.75,350.45 L601.42,353.47 L602.08,356.48 L602.73,359.50 L603.39,362.52 L604.03,365.54 L604.68,368.56 L605.31,371.59 L605.95,374.61 L606.58,377.63 L607.20,380.66 L607.82,383.68 L608.44,386.71 L609.05,389.74 L609.65,392.77 L610.25,395.80 L610.85,398.83 L611.44,401.86 L612.03,404.89" fill="none" stroke="#000" stroke-width="1.75" stroke-linejoin="round" />
</g>
<g clip-path="url(#c2)">
<path d="M245.72,442.11 L247.99,442.51 L250.25,442.93 L252.51,443.36 L254.77,443.81 L257.02,444.28 L259.27,444.76 L261.51,445.25 L263.76,445.75 L265.99,446.27 L268.23,446.80 L270.47,447.34 L272.70,447.89 L274.93,448.45 L277.15,449.02 L279.38,449.60 L281.60,450.19 L283.82,450.78 L286.04,451.38 L288.26,451.99 L290.47,452.60 L292.69,453.21 L294.90,453.84 L297.12,454.46 L299.33,455.09 L301.54,455.72 L303.75,456.35 L305.96,456.98 L308.18,457.62 L310.39,458.25 L312.60,458.88 L314.81,459.51 L317.02,460.14 L319.23,460.77 L321.45,461.39 L323.66,462.01 L325.87,462.63 L328.09,463.24 L330.31,463.85 L332.52,464.45 L334.74,465.05 L336.96,465.65 L339.18,466.25 L341.40,466.84 L343.62,467.43 L345.84,468.03 L348.06,468.62 L350.28,469.21 L352.50,469.79 L354.72,470.38 L356.94,470.97 L359.16,471.56 L361.38,472.15 L363.60,472.74 L365.82,473.33 L368.04,473.92 L370.26,474.51 L372.48,475.11 L374.69,475.71 L376.91,476.31 L379.13,476.91 L381.34,477.52 L383.56,478.13 L385.77,478.75 L387.98,479.36 L390.20,479.99 L392.41,480.61 L394.62,481.24 L396.83,481.88 L399.03,482.52 L401.24,483.17 L403.44,483.82 L405.65,484.47 L407.85,485.13 L410.05,485.80 L412.25,486.47 L414.44,487.15 L416.64,487.84 L418.83,488.53 L421.02,489.23 L423.21,489.93 L425.40,490.64 L427.58,491.36 L429.77,492.08 L431.95,492.81 L434.13,493.55 L436.30,494.30 L438.48,495.05 L440.65,495.81 L442.82,496.58 L444.98,497.36 L447.15,498.14 L449.31,498.94 L451.47,499.74 L453.62,500.55 L455.78,501.37 L457.93,502.20 L460.08,503.04 L462.22,503.88 L464.36,504.74 L466.50,505.61 L468.63,506.48 L470.76,507.37 L472.89,508.27 L475.01,509.19 L477.12,510.11 L479.23,511.05 L481.32,512.01 L483.41,512.98 L485.50,513.97 L487.57,514.97 L489.63,515.99 L491.68,517.03 L493.73,518.08 L495.76,519.16 L497.78,520.26 L499.78,521.37 L501.78,522.51 L503.76,523.67 L505.73,524.85 L507.68,526.05 L509.62,527.28 L511.55,528.52 L513.46,529.78 L515.37,531.06 L517.25,532.36 L519.13,533.69 L520.99,535.03 L522.84,536.39 L524.67,537.76 L526.49,539.16 L528.29,540.57 L530.09,542.01 L531.86,543.46 L533.63,544.92 L535.38,546.41 L537.11,547.91 L538.84,549.43 L540.54,550.97 L542.24,552.52 L543.92,554.09 L545.58,555.67 L547.23,557.27 L548.87,558.88 L550.49,560.52 L552.09,562.16 L553.69,563.82 L555.26,565.49 L556.83,567.18 L558.37,568.89 L559.91,570.60 L561.43,572.33 L562.93,574.08 L564.42,575.83 L565.89,577.60 L567.35,579.38 L568.79,581.18 L570.22,582.99 L571.63,584.81 L573.02,586.64 L574.41,588.48 L575.77,590.33 L577.12,592.19 L578.46,594.07 L579.78,595.95 L581.09,597.85 L582.39,599.75 L583.67,601.67 L584.94,603.59 L586.19,605.53 L587.43,607.47 L588.66,609.42 L589.87,611.37 L591.07,613.34 L592.26,615.32 L593.44,617.30 L594.60,619.28 L595.76,621.28 L596.90,623.28 L598.03,625.29 L599.15,627.31 L600.25,629.33 L601.35,631.35 L602.43,633.38 L603.51,635.42 L604.57,637.46 L605.62,639.50 L606.67,641.55 L607.70,643.61 L608.72,645.66 L609.74,647.73 L610.74,649.79 L611.74,651.86 L612.73,653.92 L613.70,656.00 L614.67,658.07 L615.63,660.15 L616.59,662.22 L617.53,664.30 L618.47,666.38" fill="none" stroke="#000" stroke-width="1.75" stroke-linejoin="round" />
<path d="M245.69,519.35 L247.77,519.37 L249.84,519.42 L251.91,519.49 L253.98,519.58 L256.04,519.69 L258.10,519.82 L260.16,519.98 L262.22,520.15 L264.27,520.34 L266.31,520.55 L268.36,520.78 L270.40,521.03 L272.44,521.30 L274.48,521.58 L276.51,521.88 L278.54,522.19 L280.57,522.52 L282.59,522.87 L284.62,523.23 L286.64,523.60 L288.65,523.99 L290.67,524.39 L292.68,524.80 L294.70,525.23 L296.70,525.67 L298.71,526.11 L300.72,526.57 L302.72,527.04 L304.72,527.52 L306.72,528.01 L308.72,528.50 L310.72,529.01 L312.71,529.52 L314.70,530.04 L316.70,530.57 L318.69,531.10 L320.67,531.64 L322.66,532.18 L324.65,532.73 L326.63,533.28 L328.62,533.83 L330.60,534.40 L332.58,534.96 L334.56,535.53 L336.54,536.10 L338.52,536.67 L340.50,537.25 L342.48,537.83 L344.46,538.41 L346.43,539.00 L348.41,539.59 L350.38,540.17 L352.36,540.76 L354.33,541.36 L356.31,541.95 L358.28,542.54 L360.25,543.14 L362.23,543.73 L364.20,544.32 L366.17,544.92 L368.15,545.51 L370.12,546.11 L372.09,546.70 L374.07,547.29 L376.04,547.88 L378.02,548.47 L379.99,549.06 L381.96,549.65 L383.94,550.23 L385.92,550.81 L387.89,551.39 L389.87,551.97 L391.85,552.54 L393.82,553.11 L395.80,553.68 L397.78,554.25 L399.76,554.82 L401.74,555.38 L403.72,555.94 L405.70,556.50 L407.68,557.06 L409.66,557.62 L411.64,558.17 L413.62,558.73 L415.61,559.28 L417.59,559.83 L419.57,560.38 L421.56,560.93 L423.54,561.48 L425.52,562.02 L427.51,562.57 L429.49,563.11 L431.48,563.66 L433.46,564.20 L435.45,564.74 L437.43,565.29 L439.42,565.83 L441.41,566.37 L443.39,566.91 L445.38,567.45 L447.37,567.99 L449.35,568.53 L451.34,569.07 L453.33,569.62 L455.31,570.16 L457.30,570.70 L459.29,571.24 L461.28,571.78 L463.27,572.33 L465.25,572.87 L467.24,573.41 L469.23,573.96 L471.22,574.51 L473.20,575.06 L475.19,575.62 L477.17,576.18 L479.15,576.74 L481.14,577.31 L483.11,577.89 L485.09,578.47 L487.07,579.06 L489.04,579.65 L491.01,580.26 L492.98,580.87 L494.94,581.49 L496.91,582.12 L498.86,582.76 L500.82,583.42 L502.77,584.08 L504.72,584.76 L506.66,585.44 L508.60,586.14 L510.53,586.85 L512.46,587.57 L514.39,588.31 L516.31,589.06 L518.22,589.82 L520.13,590.59 L522.03,591.37 L523.93,592.17 L525.82,592.98 L527.71,593.81 L529.59,594.64 L531.46,595.50 L533.33,596.36 L535.18,597.24 L537.04,598.13 L538.88,599.04 L540.72,599.96 L542.54,600.90 L544.37,601.85 L546.18,602.82 L547.98,603.80 L549.78,604.79 L551.57,605.81 L553.34,606.83 L555.11,607.88 L556.87,608.93 L558.62,610.01 L560.36,611.10 L562.09,612.21 L563.82,613.33 L565.53,614.47 L567.23,615.63 L568.92,616.80 L570.59,617.99 L572.26,619.20 L573.92,620.42 L575.56,621.67 L577.20,622.93 L578.82,624.20 L580.43,625.49 L582.02,626.80 L583.61,628.12 L585.18,629.46 L586.74,630.82 L588.28,632.19 L589.82,633.58 L591.33,634.98 L592.84,636.40 L594.33,637.83 L595.81,639.27 L597.27,640.73 L598.71,642.21 L600.15,643.69 L601.56,645.20 L602.96,646.71 L604.35,648.24 L605.72,649.78 L607.07,651.34 L608.41,652.90 L609.73,654.48 L611.04,656.08 L612.32,657.68 L613.59,659.30 L614.84,660.93 L616.08,662.57 L617.30,664.22 L618.50,665.88" fill="none" stroke="#000" stroke-width="1.75" stroke-linejoin="round" />
<path d="M245.70,615.59 L247.69,615.53 L249.67,615.49 L251.65,615.47 L253.63,615.47 L255.61,615.50 L257.58,615.55 L259.55,615.62 L261.52,615.71 L263.48,615.82 L265.44,615.95 L267.40,616.10 L269.36,616.27 L271.31,616.45 L273.26,616.66 L275.21,616.88 L277.16,617.12 L279.10,617.38 L281.05,617.65 L282.99,617.94 L284.92,618.24 L286.86,618.56 L288.79,618.90 L290.72,619.24 L292.65,619.60 L294.58,619.98 L296.51,620.36 L298.43,620.76 L300.35,621.17 L302.27,621.59 L304.19,622.02 L306.11,622.46 L308.03,622.91 L309.94,623.38 L311.86,623.85 L313.77,624.32 L315.68,624.81 L317.59,625.30 L319.50,625.80 L321.40,626.31 L323.31,626.82 L325.22,627.34 L327.12,627.86 L329.02,628.39 L330.93,628.93 L332.83,629.46 L334.73,630.00 L336.63,630.55 L338.53,631.09 L340.43,631.64 L342.33,632.19 L344.23,632.74 L346.13,633.29 L348.03,633.84 L349.92,634.39 L351.82,634.94 L353.72,635.48 L355.62,636.03 L357.51,636.57 L359.41,637.12 L361.31,637.65 L363.21,638.19 L365.11,638.72 L367.00,639.25 L368.90,639.77 L370.80,640.30 L372.70,640.81 L374.60,641.33 L376.50,641.84 L378.40,642.35 L380.30,642.86 L382.20,643.36 L384.10,643.86 L386.00,644.35 L387.90,644.84 L389.81,645.33 L391.71,645.81 L393.61,646.29 L395.52,646.77 L397.42,647.24 L399.33,647.71 L401.24,648.18 L403.15,648.64 L405.05,649.10 L406.96,649.56 L408.87,650.01 L410.78,650.45 L412.70,650.90 L414.61,651.34 L416.52,651.77 L418.44,652.21 L420.35,652.63 L422.27,653.06 L424.19,653.48 L426.11,653.90 L428.03,654.31 L429.95,654.72 L431.87,655.12 L433.80,655.52 L435.72,655.92 L437.65,656.31 L439.58,656.70 L441.51,657.09 L443.44,657.47 L445.37,657.84 L447.30,658.22 L449.24,658.58 L451.17,658.95 L453.11,659.31 L455.05,659.66 L456.99,660.01 L458.94,660.36 L460.88,660.70 L462.83,661.04 L464.78,661.38 L466.73,661.71 L468.68,662.03 L470.63,662.36 L472.58,662.68 L474.54,663.00 L476.49,663.32 L478.45,663.64 L480.40,663.96 L482.36,664.28 L484.31,664.60 L486.27,664.92 L488.22,665.25 L490.17,665.57 L492.13,665.90 L494.08,666.24 L496.03,666.58 L497.98,666.92 L499.92,667.27 L501.87,667.62 L503.81,667.98 L505.75,668.35 L507.68,668.72 L509.62,669.11 L511.55,669.50 L513.48,669.90 L515.40,670.31 L517.32,670.73 L519.24,671.16 L521.16,671.60 L523.07,672.06 L524.97,672.52 L526.87,673.00 L528.77,673.49 L530.66,674.00 L532.54,674.52 L534.43,675.05 L536.30,675.60 L538.17,676.17 L540.03,676.75 L541.89,677.35 L543.74,677.97 L545.59,678.61 L547.43,679.26 L549.26,679.94 L551.08,680.63 L552.90,681.34 L554.71,682.08 L556.51,682.83 L558.31,683.61 L560.09,684.41 L561.87,685.23 L563.64,686.08 L565.40,686.95 L567.16,687.84 L568.90,688.76 L570.64,689.70 L572.36,690.66 L574.08,691.65 L575.79,692.65 L577.50,693.66 L579.19,694.70 L580.88,695.75 L582.57,696.82 L584.24,697.89 L585.91,698.98 L587.57,700.09 L589.23,701.20 L590.88,702.32 L592.52,703.44 L594.16,704.58 L595.80,705.72 L597.43,706.86 L599.05,708.00 L600.67,709.15 L602.28,710.30 L603.89,711.45 L605.50,712.59 L607.10,713.73 L608.70,714.87 L610.29,716.01 L611.89,717.13 L613.47,718.25 L615.06,719.36 L616.64,720.47 L618.22,721.56" fill="none" stroke="#000" stroke-width="1.75" stroke-linejoin="round" />
<path d="M246.17,728.56 L247.13,728.88 L248.08,729.20 L249.03,729.52 L249.98,729.83 L250.94,730.14 L251.89,730.45 L252.85,730.76 L253.80,731.06 L254.76,731.37 L255.72,731.67 L256.67,731.96 L257.63,732.26 L258.59,732.56 L259.55,732.85 L260.51,733.14 L261.47,733.43 L262.43,733.71 L263.39,734.00 L264.35,734.28 L265.31,734.56 L266.27,734.84 L267.23,735.11 L268.20,735.39 L269.16,735.66 L270.12,735.93 L271.09,736.20 L272.05,736.46 L273.02,736.73 L273.98,736.99 L274.95,737.25 L275.92,737.51 L276.88,737.77 L277.85,738.02 L278.82,738.27 L279.79,738.52 L280.76,738.77 L281.72,739.02 L282.69,739.27 L283.66,739.51 L284.63,739.76 L285.60,740.00 L286.58,740.24 L287.55,740.47 L288.52,740.71 L289.49,740.94 L290.46,741.18 L291.44,741.41 L292.41,741.64 L293.38,741.86 L294.36,742.09 L295.33,742.32 L296.31,742.54 L297.28,742.76 L298.26,742.98 L299.23,743.20 L300.21,743.42 L301.19,743.63 L302.16,743.85 L303.14,744.06 L304.12,744.27 L305.10,744.48 L306.07,744.69 L307.05,744.90 L308.03,745.10 L309.01,745.31 L309.99,745.51 L310.97,745.71 L311.95,745.91 L312.93,746.11 L313.91,746.31 L314.89,746.50 L315.87,746.70 L316.86,746.89 L317.84,747.09 L318.82,747.28 L319.80,747.47 L320.78,747.66 L321.77,747.84 L322.75,748.03 L323.73,748.22 L324.72,748.40 L325.70,748.59 L326.68,748.77 L327.67,748.95 L328.65,749.13 L329.64,749.31 L330.62,749.49 L331.61,749.66 L332.59,749.84 L333.58,750.01 L334.57,750.19 L335.55,750.36 L336.54,750.53 L337.52,750.70 L338.51,750.88 L339.50,751.04 L340.48,751.21 L341.47,751.38 L342.46,751.55 L343.45,751.71 L344.44,751.88 L345.42,752.04 L346.41,752.21 L347.40,752.37 L348.39,752.53 L349.38,752.69 L350.37,752.85 L351.35,753.01 L352.34,753.17 L353.33,753.33 L354.32,753.49 L355.31,753.64 L356.30,753.80 L357.29,753.95 L358.28,754.11 L359.27,754.26 L360.26,754.42 L361.25,754.57 L362.24,754.72 L363.23,754.87 L364.22,755.03 L365.21,755.18 L366.20,755.33 L367.19,755.48 L368.18,755.63 L369.18,755.77 L370.17,755.92 L371.16,756.07 L372.15,756.22 L373.14,756.36 L374.13,756.51 L375.12,756.66 L376.11,756.80 L377.11,756.95 L378.10,757.09 L379.09,757.24 L380.08,757.38 L381.07,757.53 L382.06,757.67 L383.06,757.82 L384.05,757.96 L385.04,758.10 L386.03,758.25 L387.02,758.39 L388.01,758.53 L389.01,758.67 L390.00,758.81 L390.99,758.96 L391.98,759.10 L392.97,759.24 L393.96,759.38 L394.96,759.52 L395.95,759.67 L396.94,759.81 L397.93,759.95 L398.92,760.09 L399.91,760.23 L400.91,760.37 L401.90,760.51 L402.89,760.65 L403.88,760.80 L404.87,760.94 L405.86,761.08 L406.85,761.22 L407.85,761.36 L408.84,761.50 L409.83,761.64 L410.82,761.79 L411.81,761.93 L412.80,762.07 L413.79,762.21 L414.78,762.36 L415.77,762.50 L416.76,762.64 L417.75,762.79 L418.74,762.93 L419.73,763.07 L420.72,763.22 L421.71,763.36 L422.70,763.51 L423.69,763.65 L424.68,763.80 L425.67,763.94 L426.66,764.09 L427.65,764.23 L428.64,764.38 L429.63,764.53 L430.62,764.68 L431.60,764.82 L432.59,764.97 L433.58,765.12 L434.57,765.27 L435.56,765.42 L436.54,765.57 L437.53,765.72 L438.52,765.87 L439.51,766.03 L440.49,766.18 L441.48,766.33" fill="none" stroke="#000" stroke-width="1.75" stroke-linejoin="round" />
</g>
<g clip-path="url(#c1)">
<path d="M112.50,306.54 L114.19,302.51 L115.88,298.54 L117.58,294.63 L119.27,290.79 L120.96,287.00 L122.65,283.28 L124.34,279.62 L126.04,276.01 L127.73,272.47 L129.42,268.98 L131.11,265.55 L132.80,262.18 L134.50,258.86 L136.19,255.60 L137.88,252.39 L139.57,249.24 L141.27,246.14 L142.96,243.09 L144.65,240.10 L146.34,237.15 L148.03,234.26 L149.73,231.41 L151.42,228.62 L153.11,225.87 L154.80,223.17 L156.49,220.52 L158.19,217.92 L159.88,215.36 L161.57,212.85 L163.26,210.38 L164.95,207.96 L166.65,205.58 L168.34,203.24 L170.03,200.95 L171.72,198.70 L173.41,196.49 L175.11,194.32 L176.80,192.19 L178.49,190.10 L180.18,188.05 L181.88,186.04 L183.57,184.07 L185.26,182.13 L186.95,180.23 L188.64,178.37 L190.34,176.55 L192.03,174.76 L193.72,173.00 L195.41,171.28 L197.10,169.60 L198.80,167.94 L200.49,166.33 L202.18,164.74 L203.87,163.18 L205.56,161.66 L207.26,160.17 L208.95,158.71 L210.64,157.28 L212.33,155.88 L214.02,154.51 L215.72,153.17 L217.41,151.85 L219.10,150.57 L220.79,149.31 L222.49,148.08 L224.18,146.88 L225.87,145.70 L227.56,144.55 L229.25,143.42 L230.95,142.32 L232.64,141.25 L234.33,140.20 L236.02,139.17 L237.71,138.17 L239.41,137.19 L241.10,136.24 L242.79,135.31 L244.48,134.40 L246.17,133.51 L247.87,132.64 L249.56,131.80 L251.25,130.97 L252.94,130.17 L254.63,129.39 L256.33,128.62 L258.02,127.88 L259.71,127.16 L261.40,126.45 L263.10,125.77 L264.79,125.10 L266.48,124.46 L268.17,123.83 L269.86,123.21 L271.56,122.62 L273.25,122.04 L274.94,121.48 L276.63,120.94 L278.32,120.42 L280.02,119.91 L281.71,119.41 L283.40,118.94 L285.09,118.47 L286.78,118.03 L288.48,117.60 L290.17,117.18 L291.86,116.78 L293.55,116.39 L295.24,116.02 L296.94,115.66 L298.63,115.32 L300.32,114.99 L302.01,114.68 L303.71,114.37 L305.40,114.09 L307.09,113.81 L308.78,113.55 L310.47,113.30 L312.17,113.07 L313.86,112.84 L315.55,112.63 L317.24,112.44 L318.93,112.25 L320.63,112.08 L322.32,111.92 L324.01,111.77 L325.70,111.63 L327.39,111.51 L329.09,111.40 L330.78,111.30 L332.47,111.21 L334.16,111.13 L335.85,111.07 L337.55,111.02 L339.24,110.97 L340.93,110.94 L342.62,110.92 L344.31,110.92 L346.01,110.92 L347.70,110.94 L349.39,110.96 L351.08,111.00 L352.78,111.05 L354.47,111.11 L356.16,111.18 L357.85,111.27 L359.54,111.36 L361.24,111.47 L362.93,111.58 L364.62,111.71 L366.31,111.85 L368.00,112.01 L369.70,112.17 L371.39,112.34 L373.08,112.53 L374.77,112.73 L376.46,112.94 L378.16,113.16 L379.85,113.40 L381.54,113.64 L383.23,113.90 L384.92,114.17 L386.62,114.46 L388.31,114.75 L390.00,115.06 L391.69,115.38 L393.39,115.71 L395.08,116.06 L396.77,116.42 L398.46,116.79 L400.15,117.18 L401.85,117.58 L403.54,117.99 L405.23,118.42 L406.92,118.86 L408.61,119.31 L410.31,119.78 L412.00,120.27 L413.69,120.77 L415.38,121.28 L417.07,121.81 L418.77,122.35 L420.46,122.91 L422.15,123.48 L423.84,124.07 L425.53,124.68 L427.23,125.30 L428.92,125.94 L430.61,126.60 L432.30,127.27 L434.00,127.96 L435.69,128.67 L437.38,129.40 L439.07,130.14 L440.76,130.90 L442.46,131.68 L444.15,132.48 L445.84,133.30 L447.53,134.14 L449.22,135.00 L450.92,135.87 L452.61,136.77 L454.30,137.69 L455.99,138.63 L457.68,139.59 L459.38,140.58 L461.07,141.58 L462.76,142.61 L464.45,143.66 L466.14,144.73 L467.84,145.83 L469.53,146.95 L471.22,148.09 L472.91,149.26 L474.61,150.45 L476.30,151.67 L477.99,152.91 L479.68,154.18 L481.37,155.48 L483.07,156.80 L484.76,158.15 L486.45,159.53 L488.14,160.93 L489.83,162.37 L491.53,163.83 L493.22,165.32 L494.91,166.85 L496.60,168.40 L498.29,169.98 L499.99,171.59 L501.68,173.24 L503.37,174.92 L505.06,176.63 L506.75,178.37 L508.45,180.14 L510.14,181.95 L511.83,183.80 L513.52,185.68 L515.22,187.59 L516.91,189.54 L518.60,191.53 L520.29,193.55 L521.98,195.62 L523.68,197.72 L525.37,199.85 L527.06,202.03 L528.75,204.25 L530.44,206.50 L532.14,208.80 L533.83,211.14 L535.52,213.52 L537.21,215.94 L538.90,218.41 L540.60,220.92 L542.29,223.47 L543.98,226.07 L545.67,228.71 L547.36,231.40 L549.06,234.14 L550.75,236.92 L552.44,239.75 L554.13,242.63 L555.83,245.56 L557.52,248.54 L559.21,251.57 L560.90,254.65 L562.59,257.78 L564.29,260.96 L565.98,264.20 L567.67,267.49 L569.36,270.83 L571.05,274.23 L572.75,277.68 L574.44,281.19 L576.13,284.76 L577.82,288.39 L579.51,292.07 L581.21,295.81 L582.90,299.62 L584.59,303.48 L586.28,307.40 L587.97,311.39 L589.67,315.44 L591.36,319.55 L593.05,323.73 L594.74,327.97 L596.43,332.28 L598.13,336.65 L599.82,341.10 L601.51,345.60 L603.20,350.18 L604.90,354.83 L606.59,359.55 L608.28,364.34 L609.97,369.20 L611.66,374.13 L613.36,379.14 L615.05,384.22 L616.74,389.38 L618.43,394.61" fill="none" stroke="#ff0000" stroke-width="2.7" stroke-linejoin="round" stroke-dasharray="12.3 7.5 12.3 7.5 12.3 7.5 12.3 7.5 20.2 8.3 12.3 7.55 12.3 7.55 12.3 7.55 12.3 7.55 12.3 7.55 12.3 7.55 12.3 7.55 12.3 7.55 12.3 7.55 12.3 7.55 12.3 7.55 12.3 7.55 12.3 7.55 12.3 7.55 12.3 7.55 12.3 7.55 12.3 7.55 12.3 7.55 12.3 7.55 12.3 7.55 12.3 7.55 12.3 7.55 12.3 7.55 12.3 7.55 12.3 7.55 12.3 7.55 12.3 7.55 12.3 7.55 12.3 7.55 12.3 7.55 12.3 7.55 12.3 7.55 12.3 7.55 12.3 7.55 12.3 7.55 12.3 7.55 12.3 7.55 12.3 7.55 12.3 7.55 12.3 7.55 "/>
</g>
<g clip-path="url(#c2)">
<path d="M112.50,475.50 L114.19,475.77 L115.88,476.04 L117.58,476.31 L119.27,476.59 L120.96,476.87 L122.65,477.16 L124.34,477.45 L126.04,477.74 L127.73,478.04 L129.42,478.34 L131.11,478.65 L132.80,478.96 L134.50,479.28 L136.19,479.59 L137.88,479.92 L139.57,480.24 L141.27,480.57 L142.96,480.91 L144.65,481.25 L146.34,481.59 L148.03,481.93 L149.73,482.29 L151.42,482.64 L153.11,483.00 L154.80,483.36 L156.49,483.73 L158.19,484.10 L159.88,484.47 L161.57,484.85 L163.26,485.24 L164.95,485.62 L166.65,486.01 L168.34,486.41 L170.03,486.81 L171.72,487.21 L173.41,487.62 L175.11,488.03 L176.80,488.44 L178.49,488.86 L180.18,489.29 L181.88,489.71 L183.57,490.15 L185.26,490.58 L186.95,491.02 L188.64,491.46 L190.34,491.91 L192.03,492.36 L193.72,492.82 L195.41,493.28 L197.10,493.74 L198.80,494.21 L200.49,494.68 L202.18,495.16 L203.87,495.64 L205.56,496.12 L207.26,496.61 L208.95,497.10 L210.64,497.60 L212.33,498.10 L214.02,498.60 L215.72,499.11 L217.41,499.62 L219.10,500.14 L220.79,500.66 L222.49,501.18 L224.18,501.71 L225.87,502.24 L227.56,502.78 L229.25,503.32 L230.95,503.86 L232.64,504.41 L234.33,504.97 L236.02,505.52 L237.71,506.08 L239.41,506.65 L241.10,507.22 L242.79,507.79 L244.48,508.37 L246.17,508.95 L247.87,509.53 L249.56,510.12 L251.25,510.71 L252.94,511.31 L254.63,511.91 L256.33,512.52 L258.02,513.13 L259.71,513.74 L261.40,514.36 L263.10,514.98 L264.79,515.60 L266.48,516.23 L268.17,516.86 L269.86,517.50 L271.56,518.14 L273.25,518.79 L274.94,519.44 L276.63,520.09 L278.32,520.75 L280.02,521.41 L281.71,522.08 L283.40,522.75 L285.09,523.42 L286.78,524.10 L288.48,524.78 L290.17,525.47 L291.86,526.16 L293.55,526.85 L295.24,527.55 L296.94,528.25 L298.63,528.96 L300.32,529.67 L302.01,530.38 L303.71,531.10 L305.40,531.82 L307.09,532.55 L308.78,533.28 L310.47,534.01 L312.17,534.75 L313.86,535.49 L315.55,536.24 L317.24,536.99 L318.93,537.74 L320.63,538.50 L322.32,539.26 L324.01,540.03 L325.70,540.80 L327.39,541.58 L329.09,542.35 L330.78,543.14 L332.47,543.92 L334.16,544.72 L335.85,545.51 L337.55,546.31 L339.24,547.11 L340.93,547.92 L342.62,548.73 L344.31,549.54 L346.01,550.36 L347.70,551.19 L349.39,552.01 L351.08,552.85 L352.78,553.68 L354.47,554.52 L356.16,555.36 L357.85,556.21 L359.54,557.06 L361.24,557.92 L362.93,558.78 L364.62,559.64 L366.31,560.51 L368.00,561.38 L369.70,562.26 L371.39,563.14 L373.08,564.02 L374.77,564.91 L376.46,565.80 L378.16,566.69 L379.85,567.59 L381.54,568.50 L383.23,569.41 L384.92,570.32 L386.62,571.23 L388.31,572.15 L390.00,573.08 L391.69,574.01 L393.39,574.94 L395.08,575.88 L396.77,576.82 L398.46,577.76 L400.15,578.71 L401.85,579.66 L403.54,580.62 L405.23,581.58 L406.92,582.54 L408.61,583.51 L410.31,584.48 L412.00,585.46 L413.69,586.44 L415.38,587.43 L417.07,588.41 L418.77,589.41 L420.46,590.40 L422.15,591.40 L423.84,592.41 L425.53,593.42 L427.23,594.43 L428.92,595.45 L430.61,596.47 L432.30,597.49 L434.00,598.52 L435.69,599.56 L437.38,600.59 L439.07,601.63 L440.76,602.68 L442.46,603.73 L444.15,604.78 L445.84,605.84 L447.53,606.90 L449.22,607.97 L450.92,609.04 L452.61,610.11 L454.30,611.19 L455.99,612.27 L457.68,613.36 L459.38,614.44 L461.07,615.54 L462.76,616.64 L464.45,617.74 L466.14,618.84 L467.84,619.95 L469.53,621.07 L471.22,622.19 L472.91,623.31 L474.61,624.43 L476.30,625.56 L477.99,626.70 L479.68,627.84 L481.37,628.98 L483.07,630.12 L484.76,631.28 L486.45,632.43 L488.14,633.59 L489.83,634.75 L491.53,635.92 L493.22,637.09 L494.91,638.26 L496.60,639.44 L498.29,640.62 L499.99,641.81 L501.68,643.00 L503.37,644.19 L505.06,645.39 L506.75,646.60 L508.45,647.80 L510.14,649.01 L511.83,650.23 L513.52,651.45 L515.22,652.67 L516.91,653.90 L518.60,655.13 L520.29,656.36 L521.98,657.60 L523.68,658.85 L525.37,660.09 L527.06,661.34 L528.75,662.60 L530.44,663.86 L532.14,665.12 L533.83,666.39 L535.52,667.66 L537.21,668.94 L538.90,670.22 L540.60,671.50 L542.29,672.79 L543.98,674.08 L545.67,675.38 L547.36,676.68 L549.06,677.98 L550.75,679.29 L552.44,680.60 L554.13,681.91 L555.83,683.23 L557.52,684.56 L559.21,685.89 L560.90,687.22 L562.59,688.55 L564.29,689.89 L565.98,691.24 L567.67,692.59 L569.36,693.94 L571.05,695.30 L572.75,696.66 L574.44,698.02 L576.13,699.39 L577.82,700.76 L579.51,702.14 L581.21,703.52 L582.90,704.90 L584.59,706.29 L586.28,707.68 L587.97,709.08 L589.67,710.48 L591.36,711.89 L593.05,713.29 L594.74,714.71 L596.43,716.12 L598.13,717.54 L599.82,718.97 L601.51,720.40 L603.20,721.83 L604.90,723.27 L606.59,724.71 L608.28,726.15 L609.97,727.60 L611.66,729.06 L613.36,730.51 L615.05,731.98 L616.74,733.44 L618.43,734.91" fill="none" stroke="#ff0000" stroke-width="2.7" stroke-linejoin="round" stroke-dasharray="12.3 7.62"/>
</g>
<rect x="101.75" y="43.1" width="516.6" height="723.1999999999999" fill="none" stroke="#000" stroke-width="1.9"/>
<line x1="101.75" y1="405.00" x2="618.35" y2="405.00" stroke="#000" stroke-width="1.9" />
<line x1="112.50" y1="43.10" x2="112.50" y2="61.10" stroke="#000" stroke-width="1.5" />
<line x1="112.50" y1="387.00" x2="112.50" y2="423.00" stroke="#000" stroke-width="1.5" />
<line x1="112.50" y1="748.30" x2="112.50" y2="766.30" stroke="#000" stroke-width="1.5" />
<line x1="134.69" y1="43.10" x2="134.69" y2="52.10" stroke="#000" stroke-width="1.5" />
<line x1="134.69" y1="396.00" x2="134.69" y2="414.00" stroke="#000" stroke-width="1.5" />
<line x1="134.69" y1="757.30" x2="134.69" y2="766.30" stroke="#000" stroke-width="1.5" />
<line x1="156.88" y1="43.10" x2="156.88" y2="52.10" stroke="#000" stroke-width="1.5" />
<line x1="156.88" y1="396.00" x2="156.88" y2="414.00" stroke="#000" stroke-width="1.5" />
<line x1="156.88" y1="757.30" x2="156.88" y2="766.30" stroke="#000" stroke-width="1.5" />
<line x1="179.07" y1="43.10" x2="179.07" y2="52.10" stroke="#000" stroke-width="1.5" />
<line x1="179.07" y1="396.00" x2="179.07" y2="414.00" stroke="#000" stroke-width="1.5" />
<line x1="179.07" y1="757.30" x2="179.07" y2="766.30" stroke="#000" stroke-width="1.5" />
<line x1="201.26" y1="43.10" x2="201.26" y2="52.10" stroke="#000" stroke-width="1.5" />
<line x1="201.26" y1="396.00" x2="201.26" y2="414.00" stroke="#000" stroke-width="1.5" />
<line x1="201.26" y1="757.30" x2="201.26" y2="766.30" stroke="#000" stroke-width="1.5" />
<line x1="223.45" y1="43.10" x2="223.45" y2="61.10" stroke="#000" stroke-width="1.5" />
<line x1="223.45" y1="387.00" x2="223.45" y2="423.00" stroke="#000" stroke-width="1.5" />
<line x1="223.45" y1="748.30" x2="223.45" y2="766.30" stroke="#000" stroke-width="1.5" />
<line x1="245.64" y1="43.10" x2="245.64" y2="52.10" stroke="#000" stroke-width="1.5" />
<line x1="245.64" y1="396.00" x2="245.64" y2="414.00" stroke="#000" stroke-width="1.5" />
<line x1="245.64" y1="757.30" x2="245.64" y2="766.30" stroke="#000" stroke-width="1.5" />
<line x1="267.83" y1="43.10" x2="267.83" y2="52.10" stroke="#000" stroke-width="1.5" />
<line x1="267.83" y1="396.00" x2="267.83" y2="414.00" stroke="#000" stroke-width="1.5" />
<line x1="267.83" y1="757.30" x2="267.83" y2="766.30" stroke="#000" stroke-width="1.5" />
<line x1="290.02" y1="43.10" x2="290.02" y2="52.10" stroke="#000" stroke-width="1.5" />
<line x1="290.02" y1="396.00" x2="290.02" y2="414.00" stroke="#000" stroke-width="1.5" />
<line x1="290.02" y1="757.30" x2="290.02" y2="766.30" stroke="#000" stroke-width="1.5" />
<line x1="312.21" y1="43.10" x2="312.21" y2="52.10" stroke="#000" stroke-width="1.5" />
<line x1="312.21" y1="396.00" x2="312.21" y2="414.00" stroke="#000" stroke-width="1.5" />
<line x1="312.21" y1="757.30" x2="312.21" y2="766.30" stroke="#000" stroke-width="1.5" />
<line x1="334.40" y1="43.10" x2="334.40" y2="61.10" stroke="#000" stroke-width="1.5" />
<line x1="334.40" y1="387.00" x2="334.40" y2="423.00" stroke="#000" stroke-width="1.5" />
<line x1="334.40" y1="748.30" x2="334.40" y2="766.30" stroke="#000" stroke-width="1.5" />
<line x1="356.59" y1="43.10" x2="356.59" y2="52.10" stroke="#000" stroke-width="1.5" />
<line x1="356.59" y1="396.00" x2="356.59" y2="414.00" stroke="#000" stroke-width="1.5" />
<line x1="356.59" y1="757.30" x2="356.59" y2="766.30" stroke="#000" stroke-width="1.5" />
<line x1="378.78" y1="43.10" x2="378.78" y2="52.10" stroke="#000" stroke-width="1.5" />
<line x1="378.78" y1="396.00" x2="378.78" y2="414.00" stroke="#000" stroke-width="1.5" />
<line x1="378.78" y1="757.30" x2="378.78" y2="766.30" stroke="#000" stroke-width="1.5" />
<line x1="400.97" y1="43.10" x2="400.97" y2="52.10" stroke="#000" stroke-width="1.5" />
<line x1="400.97" y1="396.00" x2="400.97" y2="414.00" stroke="#000" stroke-width="1.5" />
<line x1="400.97" y1="757.30" x2="400.97" y2="766.30" stroke="#000" stroke-width="1.5" />
<line x1="423.16" y1="43.10" x2="423.16" y2="52.10" stroke="#000" stroke-width="1.5" />
<line x1="423.16" y1="396.00" x2="423.16" y2="414.00" stroke="#000" stroke-width="1.5" />
<line x1="423.16" y1="757.30" x2="423.16" y2="766.30" stroke="#000" stroke-width="1.5" />
<line x1="445.35" y1="43.10" x2="445.35" y2="61.10" stroke="#000" stroke-width="1.5" />
<line x1="445.35" y1="387.00" x2="445.35" y2="423.00" stroke="#000" stroke-width="1.5" />
<line x1="445.35" y1="748.30" x2="445.35" y2="766.30" stroke="#000" stroke-width="1.5" />
<line x1="467.54" y1="43.10" x2="467.54" y2="52.10" stroke="#000" stroke-width="1.5" />
<line x1="467.54" y1="396.00" x2="467.54" y2="414.00" stroke="#000" stroke-width="1.5" />
<line x1="467.54" y1="757.30" x2="467.54" y2="766.30" stroke="#000" stroke-width="1.5" />
<line x1="489.73" y1="43.10" x2="489.73" y2="52.10" stroke="#000" stroke-width="1.5" />
<line x1="489.73" y1="396.00" x2="489.73" y2="414.00" stroke="#000" stroke-width="1.5" />
<line x1="489.73" y1="757.30" x2="489.73" y2="766.30" stroke="#000" stroke-width="1.5" />
<line x1="511.92" y1="43.10" x2="511.92" y2="52.10" stroke="#000" stroke-width="1.5" />
<line x1="511.92" y1="396.00" x2="511.92" y2="414.00" stroke="#000" stroke-width="1.5" />
<line x1="511.92" y1="757.30" x2="511.92" y2="766.30" stroke="#000" stroke-width="1.5" />
<line x1="534.11" y1="43.10" x2="534.11" y2="52.10" stroke="#000" stroke-width="1.5" />
<line x1="534.11" y1="396.00" x2="534.11" y2="414.00" stroke="#000" stroke-width="1.5" />
<line x1="534.11" y1="757.30" x2="534.11" y2="766.30" stroke="#000" stroke-width="1.5" />
<line x1="556.30" y1="43.10" x2="556.30" y2="61.10" stroke="#000" stroke-width="1.5" />
<line x1="556.30" y1="387.00" x2="556.30" y2="423.00" stroke="#000" stroke-width="1.5" />
<line x1="556.30" y1="748.30" x2="556.30" y2="766.30" stroke="#000" stroke-width="1.5" />
<line x1="578.49" y1="43.10" x2="578.49" y2="52.10" stroke="#000" stroke-width="1.5" />
<line x1="578.49" y1="396.00" x2="578.49" y2="414.00" stroke="#000" stroke-width="1.5" />
<line x1="578.49" y1="757.30" x2="578.49" y2="766.30" stroke="#000" stroke-width="1.5" />
<line x1="600.68" y1="43.10" x2="600.68" y2="52.10" stroke="#000" stroke-width="1.5" />
<line x1="600.68" y1="396.00" x2="600.68" y2="414.00" stroke="#000" stroke-width="1.5" />
<line x1="600.68" y1="757.30" x2="600.68" y2="766.30" stroke="#000" stroke-width="1.5" />
<line x1="101.75" y1="393.34" x2="110.75" y2="393.34" stroke="#000" stroke-width="1.5" />
<line x1="609.35" y1="393.34" x2="618.35" y2="393.34" stroke="#000" stroke-width="1.5" />
<line x1="101.75" y1="378.35" x2="110.75" y2="378.35" stroke="#000" stroke-width="1.5" />
<line x1="609.35" y1="378.35" x2="618.35" y2="378.35" stroke="#000" stroke-width="1.5" />
<line x1="101.75" y1="365.13" x2="110.75" y2="365.13" stroke="#000" stroke-width="1.5" />
<line x1="609.35" y1="365.13" x2="618.35" y2="365.13" stroke="#000" stroke-width="1.5" />
<line x1="101.75" y1="353.30" x2="119.75" y2="353.30" stroke="#000" stroke-width="1.5" />
<line x1="600.35" y1="353.30" x2="618.35" y2="353.30" stroke="#000" stroke-width="1.5" />
<line x1="101.75" y1="275.48" x2="110.75" y2="275.48" stroke="#000" stroke-width="1.5" />
<line x1="609.35" y1="275.48" x2="618.35" y2="275.48" stroke="#000" stroke-width="1.5" />
<line x1="101.75" y1="229.96" x2="110.75" y2="229.96" stroke="#000" stroke-width="1.5" />
<line x1="609.35" y1="229.96" x2="618.35" y2="229.96" stroke="#000" stroke-width="1.5" />
<line x1="101.75" y1="197.67" x2="110.75" y2="197.67" stroke="#000" stroke-width="1.5" />
<line x1="609.35" y1="197.67" x2="618.35" y2="197.67" stroke="#000" stroke-width="1.5" />
<line x1="101.75" y1="172.62" x2="110.75" y2="172.62" stroke="#000" stroke-width="1.5" />
<line x1="609.35" y1="172.62" x2="618.35" y2="172.62" stroke="#000" stroke-width="1.5" />
<line x1="101.75" y1="152.15" x2="110.75" y2="152.15" stroke="#000" stroke-width="1.5" />
<line x1="609.35" y1="152.15" x2="618.35" y2="152.15" stroke="#000" stroke-width="1.5" />
<line x1="101.75" y1="134.84" x2="110.75" y2="134.84" stroke="#000" stroke-width="1.5" />
<line x1="609.35" y1="134.84" x2="618.35" y2="134.84" stroke="#000" stroke-width="1.5" />
<line x1="101.75" y1="119.85" x2="110.75" y2="119.85" stroke="#000" stroke-width="1.5" />
<line x1="609.35" y1="119.85" x2="618.35" y2="119.85" stroke="#000" stroke-width="1.5" />
<line x1="101.75" y1="106.63" x2="110.75" y2="106.63" stroke="#000" stroke-width="1.5" />
<line x1="609.35" y1="106.63" x2="618.35" y2="106.63" stroke="#000" stroke-width="1.5" />
<line x1="101.75" y1="94.80" x2="119.75" y2="94.80" stroke="#000" stroke-width="1.5" />
<line x1="600.35" y1="94.80" x2="618.35" y2="94.80" stroke="#000" stroke-width="1.5" />
<line x1="101.75" y1="755.13" x2="110.75" y2="755.13" stroke="#000" stroke-width="1.5" />
<line x1="609.35" y1="755.13" x2="618.35" y2="755.13" stroke="#000" stroke-width="1.5" />
<line x1="101.75" y1="744.52" x2="110.75" y2="744.52" stroke="#000" stroke-width="1.5" />
<line x1="609.35" y1="744.52" x2="618.35" y2="744.52" stroke="#000" stroke-width="1.5" />
<line x1="101.75" y1="735.85" x2="110.75" y2="735.85" stroke="#000" stroke-width="1.5" />
<line x1="609.35" y1="735.85" x2="618.35" y2="735.85" stroke="#000" stroke-width="1.5" />
<line x1="101.75" y1="728.52" x2="110.75" y2="728.52" stroke="#000" stroke-width="1.5" />
<line x1="609.35" y1="728.52" x2="618.35" y2="728.52" stroke="#000" stroke-width="1.5" />
<line x1="101.75" y1="722.17" x2="110.75" y2="722.17" stroke="#000" stroke-width="1.5" />
<line x1="609.35" y1="722.17" x2="618.35" y2="722.17" stroke="#000" stroke-width="1.5" />
<line x1="101.75" y1="716.57" x2="110.75" y2="716.57" stroke="#000" stroke-width="1.5" />
<line x1="609.35" y1="716.57" x2="618.35" y2="716.57" stroke="#000" stroke-width="1.5" />
<line x1="101.75" y1="711.56" x2="119.75" y2="711.56" stroke="#000" stroke-width="1.5" />
<line x1="600.35" y1="711.56" x2="618.35" y2="711.56" stroke="#000" stroke-width="1.5" />
<line x1="101.75" y1="678.60" x2="110.75" y2="678.60" stroke="#000" stroke-width="1.5" />
<line x1="609.35" y1="678.60" x2="618.35" y2="678.60" stroke="#000" stroke-width="1.5" />
<line x1="101.75" y1="659.32" x2="110.75" y2="659.32" stroke="#000" stroke-width="1.5" />
<line x1="609.35" y1="659.32" x2="618.35" y2="659.32" stroke="#000" stroke-width="1.5" />
<line x1="101.75" y1="645.64" x2="110.75" y2="645.64" stroke="#000" stroke-width="1.5" />
<line x1="609.35" y1="645.64" x2="618.35" y2="645.64" stroke="#000" stroke-width="1.5" />
<line x1="101.75" y1="635.03" x2="110.75" y2="635.03" stroke="#000" stroke-width="1.5" />
<line x1="609.35" y1="635.03" x2="618.35" y2="635.03" stroke="#000" stroke-width="1.5" />
<line x1="101.75" y1="626.36" x2="110.75" y2="626.36" stroke="#000" stroke-width="1.5" />
<line x1="609.35" y1="626.36" x2="618.35" y2="626.36" stroke="#000" stroke-width="1.5" />
<line x1="101.75" y1="619.03" x2="110.75" y2="619.03" stroke="#000" stroke-width="1.5" />
<line x1="609.35" y1="619.03" x2="618.35" y2="619.03" stroke="#000" stroke-width="1.5" />
<line x1="101.75" y1="612.68" x2="110.75" y2="612.68" stroke="#000" stroke-width="1.5" />
<line x1="609.35" y1="612.68" x2="618.35" y2="612.68" stroke="#000" stroke-width="1.5" />
<line x1="101.75" y1="607.08" x2="110.75" y2="607.08" stroke="#000" stroke-width="1.5" />
<line x1="609.35" y1="607.08" x2="618.35" y2="607.08" stroke="#000" stroke-width="1.5" />
<line x1="101.75" y1="602.07" x2="119.75" y2="602.07" stroke="#000" stroke-width="1.5" />
<line x1="600.35" y1="602.07" x2="618.35" y2="602.07" stroke="#000" stroke-width="1.5" />
<line x1="101.75" y1="569.11" x2="110.75" y2="569.11" stroke="#000" stroke-width="1.5" />
<line x1="609.35" y1="569.11" x2="618.35" y2="569.11" stroke="#000" stroke-width="1.5" />
<line x1="101.75" y1="549.84" x2="110.75" y2="549.84" stroke="#000" stroke-width="1.5" />
<line x1="609.35" y1="549.84" x2="618.35" y2="549.84" stroke="#000" stroke-width="1.5" />
<line x1="101.75" y1="536.16" x2="110.75" y2="536.16" stroke="#000" stroke-width="1.5" />
<line x1="609.35" y1="536.16" x2="618.35" y2="536.16" stroke="#000" stroke-width="1.5" />
<line x1="101.75" y1="525.55" x2="110.75" y2="525.55" stroke="#000" stroke-width="1.5" />
<line x1="609.35" y1="525.55" x2="618.35" y2="525.55" stroke="#000" stroke-width="1.5" />
<line x1="101.75" y1="516.88" x2="110.75" y2="516.88" stroke="#000" stroke-width="1.5" />
<line x1="609.35" y1="516.88" x2="618.35" y2="516.88" stroke="#000" stroke-width="1.5" />
<line x1="101.75" y1="509.55" x2="110.75" y2="509.55" stroke="#000" stroke-width="1.5" />
<line x1="609.35" y1="509.55" x2="618.35" y2="509.55" stroke="#000" stroke-width="1.5" />
<line x1="101.75" y1="503.20" x2="110.75" y2="503.20" stroke="#000" stroke-width="1.5" />
<line x1="609.35" y1="503.20" x2="618.35" y2="503.20" stroke="#000" stroke-width="1.5" />
<line x1="101.75" y1="497.60" x2="110.75" y2="497.60" stroke="#000" stroke-width="1.5" />
<line x1="609.35" y1="497.60" x2="618.35" y2="497.60" stroke="#000" stroke-width="1.5" />
<line x1="101.75" y1="492.59" x2="119.75" y2="492.59" stroke="#000" stroke-width="1.5" />
<line x1="600.35" y1="492.59" x2="618.35" y2="492.59" stroke="#000" stroke-width="1.5" />
<line x1="101.75" y1="459.63" x2="110.75" y2="459.63" stroke="#000" stroke-width="1.5" />
<line x1="609.35" y1="459.63" x2="618.35" y2="459.63" stroke="#000" stroke-width="1.5" />
<line x1="101.75" y1="440.35" x2="110.75" y2="440.35" stroke="#000" stroke-width="1.5" />
<line x1="609.35" y1="440.35" x2="618.35" y2="440.35" stroke="#000" stroke-width="1.5" />
<line x1="101.75" y1="426.67" x2="110.75" y2="426.67" stroke="#000" stroke-width="1.5" />
<line x1="609.35" y1="426.67" x2="618.35" y2="426.67" stroke="#000" stroke-width="1.5" />
<line x1="101.75" y1="416.06" x2="110.75" y2="416.06" stroke="#000" stroke-width="1.5" />
<line x1="609.35" y1="416.06" x2="618.35" y2="416.06" stroke="#000" stroke-width="1.5" />
<line x1="101.75" y1="407.39" x2="110.75" y2="407.39" stroke="#000" stroke-width="1.5" />
<line x1="609.35" y1="407.39" x2="618.35" y2="407.39" stroke="#000" stroke-width="1.5" />
<text x="104.25" y="27.70" font-family="Liberation Serif, serif" font-size="26.6" textLength="16.50" lengthAdjust="spacingAndGlyphs" fill="#000" >7</text>
<text x="104.25" y="800.50" font-family="Liberation Serif, serif" font-size="26.6" textLength="16.50" lengthAdjust="spacingAndGlyphs" fill="#000" >7</text>
<text x="202.70" y="27.70" font-family="Liberation Serif, serif" font-size="26.6" textLength="41.50" lengthAdjust="spacingAndGlyphs" fill="#000" >7.5</text>
<text x="202.70" y="800.50" font-family="Liberation Serif, serif" font-size="26.6" textLength="41.50" lengthAdjust="spacingAndGlyphs" fill="#000" >7.5</text>
<text x="326.15" y="27.70" font-family="Liberation Serif, serif" font-size="26.6" textLength="16.50" lengthAdjust="spacingAndGlyphs" fill="#000" >8</text>
<text x="326.15" y="800.50" font-family="Liberation Serif, serif" font-size="26.6" textLength="16.50" lengthAdjust="spacingAndGlyphs" fill="#000" >8</text>
<text x="424.60" y="27.70" font-family="Liberation Serif, serif" font-size="26.6" textLength="41.50" lengthAdjust="spacingAndGlyphs" fill="#000" >8.5</text>
<text x="424.60" y="800.50" font-family="Liberation Serif, serif" font-size="26.6" textLength="41.50" lengthAdjust="spacingAndGlyphs" fill="#000" >8.5</text>
<text x="548.05" y="27.70" font-family="Liberation Serif, serif" font-size="26.6" textLength="16.50" lengthAdjust="spacingAndGlyphs" fill="#000" >9</text>
<text x="548.05" y="800.50" font-family="Liberation Serif, serif" font-size="26.6" textLength="16.50" lengthAdjust="spacingAndGlyphs" fill="#000" >9</text>
<text x="53.60" y="104.40" font-family="Liberation Serif, serif" font-size="27.2" textLength="31.00" lengthAdjust="spacingAndGlyphs" fill="#000" >10</text>
<text x="71.60" y="362.90" font-family="Liberation Serif, serif" font-size="27.2" textLength="13.00" lengthAdjust="spacingAndGlyphs" fill="#000" >1</text>
<text x="53.60" y="502.19" font-family="Liberation Serif, serif" font-size="27.2" textLength="31.00" lengthAdjust="spacingAndGlyphs" fill="#000" >10</text>
<text x="71.60" y="611.67" font-family="Liberation Serif, serif" font-size="27.2" textLength="13.00" lengthAdjust="spacingAndGlyphs" fill="#000" >1</text>
<text x="43.60" y="721.16" font-family="Liberation Serif, serif" font-size="27.2" textLength="41.00" lengthAdjust="spacingAndGlyphs" fill="#000" >0.1</text>
<g transform="translate(30.4,248.8) rotate(-90)">
<text transform="matrix(0.2764 0 0 0.2993 -0.80 0.00)" font-family="Liberation Serif, serif" font-size="100" fill="#000" >R</text>
<text transform="matrix(0.3592 0 0 0.3006 17.12 0.00)" font-family="Liberation Serif, serif" font-size="100" fill="#000" >2</text>
<text transform="matrix(0.3365 0 0 0.3007 34.09 0.01)" font-family="Liberation Serif, serif" font-size="100" fill="#000" >3</text>
</g>
<g transform="translate(29.9,654.4) rotate(-90)">
<text transform="matrix(0.2874 0 0 0.3468 -1.93 1.26)" font-family="Liberation Serif, serif" font-size="100" fill="#000" >[</text>
<text transform="matrix(0.2328 0 0 0.2962 10.25 0.01)" font-family="Liberation Serif, serif" font-size="100" fill="#000" >O</text>
<text transform="matrix(0.1758 0 0 0.2535 28.76 0.00)" font-family="Liberation Serif, serif" font-size="100" fill="#000" >I</text>
<text transform="matrix(0.1758 0 0 0.2535 36.66 0.00)" font-family="Liberation Serif, serif" font-size="100" fill="#000" >I</text>
<text transform="matrix(0.1758 0 0 0.2535 44.46 0.00)" font-family="Liberation Serif, serif" font-size="100" fill="#000" >I</text>
<text transform="matrix(0.2874 0 0 0.3468 53.16 1.26)" font-family="Liberation Serif, serif" font-size="100" fill="#000" >]</text>
<line x1="65.60" y1="4.70" x2="79.80" y2="-22.00" stroke="#000" stroke-width="1.6"/>
<text transform="matrix(0.2874 0 0 0.3468 83.17 1.26)" font-family="Liberation Serif, serif" font-size="100" fill="#000" >[</text>
<text transform="matrix(0.2281 0 0 0.2962 95.26 0.01)" font-family="Liberation Serif, serif" font-size="100" fill="#000" >O</text>
<text transform="matrix(0.1758 0 0 0.2535 113.96 0.00)" font-family="Liberation Serif, serif" font-size="100" fill="#000" >I</text>
<text transform="matrix(0.1758 0 0 0.2535 121.76 0.00)" font-family="Liberation Serif, serif" font-size="100" fill="#000" >I</text>
<text transform="matrix(0.2964 0 0 0.3468 129.83 1.26)" font-family="Liberation Serif, serif" font-size="100" fill="#000" >]</text>
</g>
<text transform="matrix(0.2301 0 0 0.2848 271.78 835.60)" font-family="Liberation Serif, serif" font-size="100" fill="#000" >1</text>
<text transform="matrix(0.3393 0 0 0.2870 286.51 835.60)" font-family="Liberation Serif, serif" font-size="100" fill="#000" >2</text>
<text transform="matrix(0.3309 0 0 0.3134 305.45 838.71)" font-family="Liberation Serif, serif" font-size="100" fill="#000" >+</text>
<text transform="matrix(0.2944 0 0 0.2767 326.71 835.60)" font-family="Liberation Serif, serif" font-size="100" fill="#000" >l</text>
<text transform="matrix(0.3350 0 0 0.2745 335.42 835.63)" font-family="Liberation Serif, serif" font-size="100" fill="#000" >o</text>
<text transform="matrix(0.3242 0 0 0.2565 351.51 835.86)" font-family="Liberation Serif, serif" font-size="100" fill="#000" >g</text>
<text transform="matrix(0.2725 0 0 0.3253 370.30 836.07)" font-family="Liberation Serif, serif" font-size="100" fill="#000" >(</text>
<text transform="matrix(0.2343 0 0 0.2917 381.14 835.62)" font-family="Liberation Serif, serif" font-size="100" fill="#000" >O</text>
<line x1="400.70" y1="842.60" x2="416.80" y2="813.90" stroke="#000" stroke-width="1.6"/>
<text transform="matrix(0.2530 0 0 0.2902 420.17 835.60)" font-family="Liberation Serif, serif" font-size="100" fill="#000" >H</text>
<text transform="matrix(0.2764 0 0 0.3253 440.31 836.07)" font-family="Liberation Serif, serif" font-size="100" fill="#000" >)</text>
</svg>
</body></html>
